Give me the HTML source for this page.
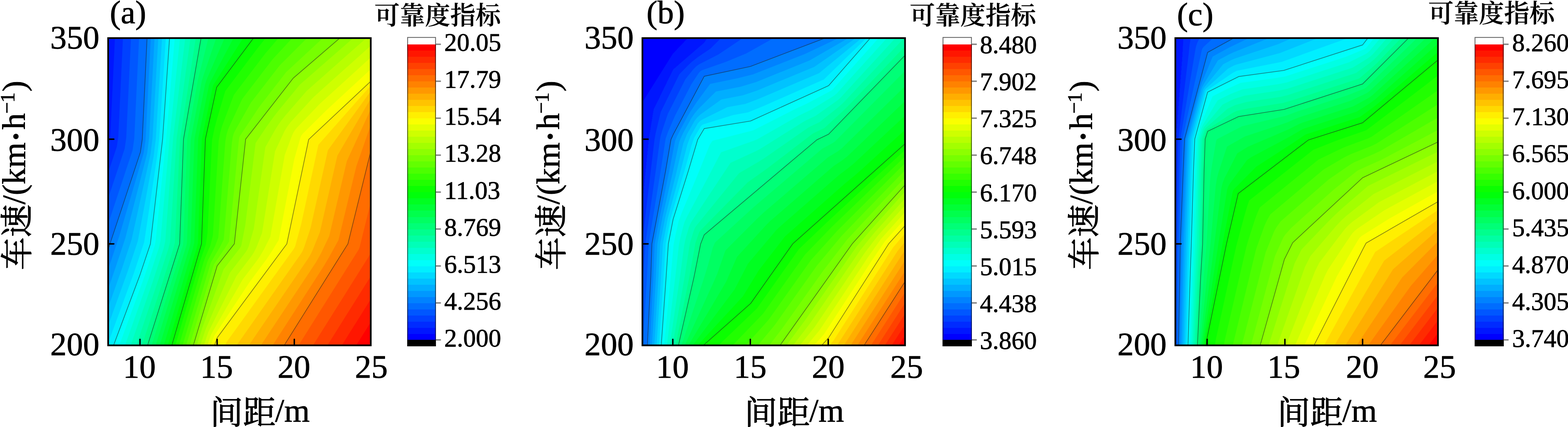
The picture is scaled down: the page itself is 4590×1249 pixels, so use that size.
<!DOCTYPE html>
<html lang="zh"><head><meta charset="utf-8"><title>可靠度指标</title>
<style>
html,body{margin:0;padding:0;background:#fff}
body{width:4590px;height:1249px;overflow:hidden}
svg{display:block}
text{font-family:"Liberation Serif","Noto Serif CJK SC",serif;fill:#000;stroke:#000;stroke-width:1.1px;stroke-linejoin:round}
.cj{stroke-width:1.6px}
.tk{font-size:96px}
.cbl{font-size:74px}
.cbt{font-size:74px;font-weight:600;stroke-width:0.5px}
.cl polyline{fill:none;stroke:#1e1e1e;stroke-opacity:.5;stroke-width:2.2;stroke-linejoin:round}
.cb rect{shape-rendering:crispEdges}
.fr{fill:none;stroke:#000;stroke-width:5}
.ti{stroke:#000;stroke-width:4.2;stroke-linecap:round}
.cbf{fill:none;stroke:#000;stroke-opacity:.62;stroke-width:2.4}
.cbk{stroke:#808080;stroke-width:4}
</style></head><body>
<svg width="4590" height="1249" viewBox="0 0 4590 1249">
<rect width="4590" height="1249" fill="#fff"/>
<defs>
<clipPath id="clipa"><rect x="316.6" y="111.4" width="768.7" height="898.8"/></clipPath>
<clipPath id="clipb"><rect x="1880.6" y="111.4" width="768.7" height="898.8"/></clipPath>
<clipPath id="clipc"><rect x="3440.6" y="111.4" width="768.7" height="898.8"/></clipPath>
</defs>
<!-- panel a -->
<g class="pl">
<rect x="316.6" y="111.4" width="768.7" height="898.8" fill="#0000ff"/>
<path fill="#0016ff" d="M316.6,111.4L316.6,1010.2L1085.3,1010.2L1085.3,111.4Z"/>
<path fill="#002bff" d="M336.4,111.4L322.8,397.4L319.1,423.4L316.6,431.0L316.6,1010.2L1085.3,1010.2L1085.3,111.4Z"/>
<path fill="#0041ff" d="M359.9,111.4L346.2,400.4L341.9,429.4L316.6,505.6L316.6,1010.2L1085.3,1010.2L1085.3,111.4Z"/>
<path fill="#0057ff" d="M383.4,111.4L369.5,403.4L365.0,434.4L316.6,580.1L316.6,1010.2L1085.3,1010.2L1085.3,111.4Z"/>
<path fill="#006dff" d="M407.0,111.4L393.1,404.4L388.1,439.4L316.6,654.7L316.6,1010.2L1085.3,1010.2L1085.3,111.4Z"/>
<path fill="#0082ff" d="M430.4,111.4L429.8,121.4L429.2,122.4L429.6,130.4L428.8,142.4L428.2,143.4L428.6,151.4L427.9,163.4L427.2,164.4L427.6,172.4L426.9,184.4L426.2,185.4L426.6,193.4L425.8,206.4L425.2,207.4L425.6,214.4L424.8,227.4L424.2,228.4L424.5,236.4L423.8,248.4L423.2,249.4L423.5,257.4L422.8,269.4L422.2,270.4L422.6,278.4L421.8,290.4L421.2,291.4L421.6,299.4L420.8,311.4L420.2,312.4L420.6,320.4L419.8,332.4L419.2,333.4L419.6,341.4L418.8,354.4L418.2,355.4L418.6,362.4L417.8,375.4L417.2,376.4L417.6,383.4L416.8,396.4L416.2,397.4L416.5,405.4L415.3,411.4L415.5,413.4L414.9,416.4L414.2,417.4L414.5,420.4L414.1,422.4L413.2,423.4L413.5,427.4L413.0,429.4L412.2,430.4L412.5,434.4L412.2,435.4L411.1,436.4L411.4,441.4L410.1,442.4L410.5,446.4L409.1,447.4L409.5,449.4L408.1,450.4L408.5,452.4L407.1,453.4L407.5,455.4L406.1,456.4L406.5,458.4L405.1,459.4L405.5,461.4L404.1,462.4L404.5,464.4L403.1,465.4L403.5,467.4L402.1,468.4L402.5,470.4L401.2,471.4L401.5,473.4L400.2,474.4L400.5,476.4L399.2,477.4L399.5,479.4L398.2,480.4L398.6,482.4L397.2,483.4L397.6,485.4L396.2,486.4L396.6,488.4L395.2,489.4L395.6,491.4L394.2,492.4L394.6,494.4L393.2,495.4L393.6,497.4L392.2,498.4L392.6,500.4L391.2,501.4L391.6,503.4L390.2,504.4L390.6,506.4L389.2,507.4L389.6,509.4L388.2,510.4L388.6,512.4L387.2,513.4L387.6,515.4L386.2,516.4L386.6,518.4L385.2,519.4L385.6,521.4L384.2,522.4L384.6,524.4L383.2,525.4L383.5,527.4L382.2,528.4L382.5,530.4L381.2,531.4L381.5,533.4L380.2,534.4L380.5,536.4L379.2,537.4L379.5,539.4L378.2,540.4L378.5,542.4L377.2,543.4L377.5,545.4L376.2,546.4L376.5,548.4L375.2,549.4L375.5,551.4L374.2,552.4L374.5,554.4L373.2,555.4L373.5,557.4L372.2,558.4L372.5,560.4L371.2,561.4L371.5,563.4L370.2,564.4L370.5,566.4L369.2,567.4L369.5,569.4L368.2,570.4L368.5,572.4L367.2,573.4L367.5,575.4L366.2,576.4L366.5,578.4L365.2,579.4L365.5,581.4L364.2,582.4L364.3,585.4L363.3,586.4L363.3,588.4L362.3,589.4L362.3,591.4L361.3,592.4L361.3,594.4L360.3,595.4L360.3,597.4L359.3,598.4L359.3,600.4L358.3,601.4L358.3,603.4L357.3,604.4L357.3,606.4L356.3,607.4L356.3,609.4L355.3,610.4L355.3,612.4L354.3,613.4L354.3,615.4L353.3,616.4L353.3,618.4L352.3,619.4L352.4,621.4L351.3,622.4L351.4,624.4L350.3,625.4L350.4,627.4L349.3,628.4L349.4,630.4L348.3,631.4L348.4,633.4L347.3,634.4L347.4,636.4L346.3,637.4L346.4,639.4L345.3,640.4L345.4,642.4L344.3,643.4L344.4,645.4L343.3,646.4L343.4,648.4L342.3,649.4L342.4,651.4L341.3,652.4L341.4,654.4L340.3,655.4L340.4,657.4L339.3,658.4L339.4,660.4L338.3,661.4L338.4,663.4L337.3,664.4L337.4,666.4L336.3,667.4L336.4,669.4L335.3,670.4L335.4,672.4L334.3,673.4L334.4,675.4L333.3,676.4L333.5,678.4L332.3,679.4L332.5,681.4L331.3,682.4L331.5,684.4L330.3,685.4L330.5,687.4L329.3,688.4L329.5,690.4L328.3,691.4L328.5,693.4L327.3,694.4L327.5,696.4L326.3,697.4L326.5,699.4L325.3,700.4L325.5,702.4L324.3,703.4L324.5,705.4L323.3,706.4L323.5,708.4L322.3,709.4L322.5,711.4L321.3,712.4L321.5,714.4L320.3,715.4L320.5,717.4L319.3,718.4L319.5,720.4L318.3,721.4L318.5,723.4L317.3,724.4L317.5,726.4L316.6,727.0L316.6,1010.2L1085.3,1010.2L1085.3,111.4Z"/>
<path fill="#0098ff" d="M441.5,111.4L426.3,407.4L420.7,447.4L348.5,692.4L316.6,788.1L316.6,1010.2L1085.3,1010.2L1085.3,111.4Z"/>
<path fill="#00aeff" d="M452.4,111.4L436.5,403.4L430.8,448.4L366.9,696.4L339.6,778.4L316.6,844.9L316.6,1010.2L1085.3,1010.2L1085.3,111.4Z"/>
<path fill="#00c3ff" d="M463.4,111.4L446.4,404.4L440.5,451.4L385.0,701.4L357.0,785.4L316.6,899.6L316.6,1010.2L1085.3,1010.2L1085.3,111.4Z"/>
<path fill="#00d9ff" d="M474.4,111.4L456.2,405.4L449.9,456.4L403.4,705.4L374.6,791.4L316.6,952.3L316.6,1010.2L1085.3,1010.2L1085.3,111.4Z"/>
<path fill="#00efff" d="M485.4,111.4L465.8,409.4L459.7,459.4L422.0,708.4L392.0,798.4L316.6,1003.2L316.6,1010.2L1085.3,1010.2L1085.3,111.4Z"/>
<path fill="#00fffa" d="M496.4,111.4L495.5,119.4L495.0,132.4L494.5,133.4L494.0,146.4L493.5,147.4L493.1,160.4L492.4,161.4L492.1,174.4L491.4,175.4L491.1,188.4L490.4,189.4L490.2,202.4L489.4,203.4L489.2,216.4L488.4,217.4L488.2,230.4L487.4,231.4L487.3,244.4L486.4,245.4L486.3,258.4L485.4,259.4L485.6,268.4L485.2,273.4L484.4,274.4L484.3,287.4L483.4,288.4L483.3,301.4L482.4,302.4L482.3,315.4L481.3,316.4L481.4,329.4L480.3,330.4L480.4,343.4L479.3,344.4L479.4,357.4L478.3,358.4L478.5,371.4L477.3,372.4L477.5,385.4L476.3,386.4L476.5,399.4L475.3,400.4L475.6,410.4L475.5,411.4L474.3,412.4L474.6,419.4L474.4,420.4L473.3,421.4L473.5,428.4L472.3,429.4L472.5,437.4L471.3,438.4L471.4,446.4L470.3,447.4L470.6,453.4L470.4,455.4L469.3,456.4L469.4,463.4L468.3,464.4L468.4,472.4L467.3,473.4L467.6,479.4L467.3,481.4L466.3,482.4L466.5,488.4L466.3,490.4L465.3,491.4L465.3,498.4L464.3,499.4L464.5,505.4L464.3,507.4L463.3,508.4L463.6,513.4L463.2,516.4L462.3,517.4L462.5,522.4L462.2,525.4L461.3,526.4L461.3,533.4L460.3,534.4L460.6,539.4L460.2,542.4L459.3,543.4L459.5,548.4L459.1,551.4L458.3,552.4L458.2,559.4L457.3,560.4L457.5,565.4L457.2,568.4L456.3,569.4L456.6,573.4L456.1,577.4L455.3,578.4L455.6,582.4L455.1,586.4L454.4,587.4L454.1,594.4L453.3,595.4L453.6,599.4L453.1,603.4L452.4,604.4L452.5,608.4L452.0,612.4L451.4,613.4L451.6,616.4L451.0,621.4L450.4,622.4L450.0,629.4L449.4,630.4L449.5,634.4L449.0,638.4L448.4,639.4L448.6,642.4L447.4,648.4L447.5,651.4L446.4,657.4L445.9,664.4L445.4,665.4L445.5,668.4L444.4,674.4L444.6,676.4L440.2,713.4L432.6,736.1L431.4,738.4L431.5,739.4L430.4,741.4L430.5,742.4L429.4,744.4L429.5,745.4L428.4,747.4L428.5,748.4L427.4,750.4L427.5,751.4L426.4,753.4L417.3,781.4L416.3,782.4L416.3,784.4L415.3,785.4L415.3,787.4L414.3,788.4L414.3,790.4L413.3,791.4L413.3,793.4L412.3,794.4L412.3,796.4L411.3,797.4L411.3,799.4L410.3,800.4L410.3,802.4L409.3,803.4L409.5,804.4L408.4,806.4L408.5,807.4L407.3,810.4L406.3,811.4L406.5,812.4L405.4,814.4L405.5,815.4L404.3,818.4L403.3,819.4L403.5,820.4L402.4,822.4L402.5,823.4L401.3,826.4L400.3,827.4L400.5,828.4L399.4,830.4L399.5,831.4L398.3,834.4L397.3,835.4L397.6,836.4L396.4,838.4L396.5,839.4L395.3,842.4L394.3,843.4L394.6,844.4L393.4,846.4L393.5,847.4L392.3,850.4L391.3,851.4L391.6,852.4L390.4,854.4L390.5,855.4L389.3,858.4L388.3,859.4L388.6,860.4L387.4,862.4L387.5,863.4L386.3,866.4L385.3,867.4L385.6,868.4L384.4,870.4L384.5,871.4L383.3,874.4L382.3,875.4L382.6,876.4L381.4,878.4L381.5,879.4L380.3,882.4L379.3,883.4L379.6,884.4L378.4,886.4L378.5,887.4L377.3,890.4L376.3,891.4L376.6,892.4L375.4,894.4L375.5,895.4L374.3,898.4L373.3,899.4L373.6,900.4L372.4,902.4L372.5,903.4L371.3,906.4L370.3,907.4L370.6,908.4L369.4,910.4L369.5,911.4L366.4,918.4L366.5,919.4L363.4,926.4L363.5,927.4L360.4,934.4L360.5,935.4L357.4,942.4L357.5,943.4L354.4,950.4L354.5,951.4L351.4,958.4L351.5,959.4L348.4,966.4L348.5,967.4L345.4,974.4L345.5,975.4L342.4,982.4L342.5,983.4L339.4,990.4L339.5,991.4L336.4,998.4L336.5,999.4L333.4,1006.4L332.4,1010.2L1085.3,1010.2L1085.3,111.4Z"/>
<path fill="#00ffe4" d="M511.6,111.4L486.1,408.4L456.0,700.4L453.8,715.4L423.0,808.4L349.3,1010.2L1085.3,1010.2L1085.3,111.4Z"/>
<path fill="#00ffce" d="M526.8,111.4L496.9,400.4L469.7,704.4L466.3,721.4L435.9,813.4L366.0,1010.2L1085.3,1010.2L1085.3,111.4Z"/>
<path fill="#00ffb8" d="M542.2,111.4L506.9,403.4L483.7,706.4L479.3,725.4L449.3,817.4L382.6,1010.2L1085.3,1010.2L1085.3,111.4Z"/>
<path fill="#00ffa3" d="M557.6,111.4L517.0,404.4L497.8,708.4L492.3,729.4L462.2,822.4L399.2,1010.2L1085.3,1010.2L1085.3,111.4Z"/>
<path fill="#00ff8d" d="M573.0,111.4L527.0,406.4L511.9,710.4L505.6,732.4L475.5,826.4L415.6,1010.2L1085.3,1010.2L1085.3,111.4Z"/>
<path fill="#00ff77" d="M588.5,111.4L587.4,114.4L587.2,119.4L586.4,120.4L586.5,123.4L586.2,125.4L585.4,126.4L585.6,128.4L585.1,131.4L584.5,132.4L583.2,142.4L582.4,143.4L582.2,148.4L581.4,149.4L581.6,151.4L581.1,154.4L580.4,155.4L580.6,157.4L579.5,161.4L578.1,171.4L577.4,172.4L577.3,176.4L576.4,178.4L576.6,180.4L575.4,184.4L575.5,186.4L574.5,190.4L573.1,200.4L572.4,201.4L572.6,203.4L571.4,207.4L571.5,209.4L570.4,213.4L568.0,229.4L567.4,230.4L567.5,232.4L566.4,236.4L563.0,258.4L562.4,259.4L562.5,261.4L537.2,407.4L534.9,470.4L534.4,471.4L533.9,496.4L533.4,497.4L533.0,521.4L532.4,522.4L532.0,547.4L531.4,548.4L531.1,572.4L530.3,573.4L530.6,586.4L530.1,598.4L529.3,599.4L529.6,613.4L529.2,623.4L528.3,624.4L528.6,640.4L528.2,649.4L527.3,650.4L527.6,667.4L527.3,674.4L526.3,675.4L526.6,694.4L526.3,700.4L525.2,701.4L525.5,714.4L524.3,715.4L524.6,717.4L523.2,718.4L523.5,720.4L522.2,721.4L522.3,724.4L521.3,725.4L521.4,727.4L520.3,728.4L520.5,730.4L519.3,731.4L519.5,733.4L518.3,734.4L518.6,736.4L517.3,737.4L517.6,739.4L516.2,740.4L516.3,743.4L515.3,744.4L515.4,746.4L514.3,747.4L514.4,749.4L513.3,750.4L513.5,752.4L512.3,753.4L512.6,755.4L511.3,756.4L511.6,758.4L510.3,759.4L510.5,761.4L509.2,762.4L509.4,765.4L508.3,766.4L508.4,768.4L507.3,769.4L507.5,771.4L506.3,772.4L506.6,774.4L505.3,775.4L505.6,777.4L504.3,778.4L504.5,780.4L503.2,781.4L503.4,784.4L502.3,785.4L502.4,787.4L501.3,788.4L501.5,790.4L500.3,791.4L500.5,793.4L499.3,794.4L499.6,796.4L498.3,797.4L498.5,799.4L497.2,800.4L497.3,803.4L496.3,804.4L496.4,806.4L495.3,807.4L495.5,809.4L494.3,810.4L494.5,812.4L493.3,813.4L493.6,815.4L492.3,816.4L492.6,818.4L491.3,819.4L491.3,822.4L490.3,823.4L490.4,825.4L489.3,826.4L489.4,828.4L488.3,829.4L488.5,831.4L487.3,832.4L487.6,834.4L486.3,835.4L486.6,837.4L485.3,838.4L485.5,840.4L484.2,841.4L484.4,844.4L483.3,845.4L483.4,847.4L482.3,848.4L482.5,850.4L481.3,851.4L481.5,853.4L480.3,854.4L480.6,856.4L479.3,857.4L479.5,859.4L478.2,860.4L478.3,863.4L477.3,864.4L477.4,866.4L476.3,867.4L476.5,869.4L475.3,870.4L475.5,872.4L474.3,873.4L474.6,875.4L473.3,876.4L473.5,878.4L472.2,879.4L472.3,882.4L471.3,883.4L471.4,885.4L470.3,886.4L470.5,888.4L469.3,889.4L469.5,891.4L468.3,892.4L468.6,894.4L467.3,895.4L467.6,897.4L466.2,898.4L466.5,900.4L465.2,901.4L465.4,904.4L464.3,905.4L464.4,907.4L463.3,908.4L463.5,910.4L462.3,911.4L462.6,913.4L461.3,914.4L461.6,916.4L460.2,917.4L460.5,919.4L459.2,920.4L459.4,923.4L458.3,924.4L458.4,926.4L457.3,927.4L457.5,929.4L456.3,930.4L456.5,932.4L455.3,933.4L455.6,935.4L454.3,936.4L454.5,938.4L453.2,939.4L453.3,942.4L452.3,943.4L452.4,945.4L451.3,946.4L451.5,948.4L450.3,949.4L450.5,951.4L449.3,952.4L449.6,954.4L448.3,955.4L448.5,957.4L447.2,958.4L447.3,961.4L446.3,962.4L446.4,964.4L445.3,965.4L445.4,967.4L444.3,968.4L444.5,970.4L443.3,971.4L443.6,973.4L442.3,974.4L442.6,976.4L441.2,977.4L441.5,979.4L440.2,980.4L440.4,983.4L439.3,984.4L439.4,986.4L438.3,987.4L438.5,989.4L437.3,990.4L437.6,992.4L436.3,993.4L436.6,995.4L435.2,996.4L435.5,998.4L434.2,999.4L434.4,1002.4L433.3,1003.4L433.4,1005.4L432.3,1006.4L432.5,1008.4L431.3,1009.4L431.4,1010.2L1085.3,1010.2L1085.3,111.4Z"/>
<path fill="#00ff62" d="M610.0,111.4L579.3,233.4L547.9,407.4L536.9,704.4L535.9,715.4L443.8,1010.2L1085.3,1010.2L1085.3,111.4Z"/>
<path fill="#00ff4c" d="M632.9,111.4L593.8,226.4L590.6,237.3L559.2,403.4L558.4,409.4L547.5,706.4L546.2,716.4L455.7,1010.2L1085.3,1010.2L1085.3,111.4Z"/>
<path fill="#00ff36" d="M657.4,111.4L604.6,233.6L600.5,246.4L570.4,400.4L569.1,410.4L558.1,707.4L556.9,715.4L555.2,722.4L467.6,1010.2L1085.3,1010.2L1085.3,111.4Z"/>
<path fill="#00ff21" d="M683.6,111.4L614.7,241.4L611.7,249.4L580.2,405.4L568.6,710.4L565.0,725.4L479.4,1010.2L1085.3,1010.2L1085.3,111.4Z"/>
<path fill="#00ff0b" d="M711.6,111.6L624.6,248.4L623.0,252.4L590.7,406.4L579.3,711.4L574.8,728.4L491.2,1010.2L1085.3,1010.2L1085.3,111.4Z"/>
<path fill="#0bff00" d="M742.1,111.4L635.6,253.4L634.4,255.4L633.6,258.2L601.3,407.4L599.0,469.4L598.5,471.4L598.0,496.4L597.5,497.4L597.1,521.4L596.5,522.4L596.1,547.4L595.5,548.4L595.2,572.4L594.4,573.4L594.3,598.4L593.4,599.4L593.3,623.4L592.4,624.4L592.3,649.4L591.4,650.4L591.4,674.4L590.4,675.4L590.4,700.4L589.4,701.4L589.6,714.4L588.3,715.4L588.4,718.4L587.4,719.4L587.5,721.4L586.4,722.4L586.6,724.4L585.3,725.4L585.5,728.4L584.4,729.4L584.6,731.4L583.3,732.4L583.4,735.4L582.4,736.4L582.6,738.4L581.3,739.4L581.4,742.4L580.4,743.4L580.5,745.4L579.3,746.4L579.6,748.4L578.3,749.4L578.4,752.4L577.3,753.4L577.6,755.4L576.3,756.4L576.4,759.4L575.4,760.4L575.5,762.4L574.3,763.4L574.6,765.4L573.3,766.4L573.5,769.4L572.3,770.4L572.6,772.4L571.3,773.4L571.4,776.4L570.3,777.4L570.5,779.4L569.3,780.4L569.5,782.4L568.3,783.4L568.5,786.4L567.3,787.4L567.6,789.4L566.3,790.4L566.4,793.4L565.3,794.4L565.6,796.4L564.3,797.4L564.4,800.4L563.3,801.4L563.5,803.4L562.3,804.4L562.6,806.4L561.3,807.4L561.5,810.4L560.3,811.4L560.6,813.4L559.3,814.4L559.4,817.4L558.3,818.4L558.5,820.4L557.3,821.4L557.6,823.4L556.3,824.4L556.5,827.4L555.3,828.4L555.6,830.4L554.3,831.4L554.4,834.4L553.3,835.4L553.6,837.4L552.3,838.4L552.4,841.4L551.3,842.4L551.5,844.4L550.3,845.4L550.6,847.4L549.3,848.4L549.4,851.4L548.3,852.4L548.6,854.4L547.3,855.4L547.4,858.4L546.3,859.4L546.5,861.4L545.3,862.4L545.6,864.4L544.3,865.4L544.5,868.4L543.3,869.4L543.6,871.4L542.3,872.4L542.4,875.4L541.3,876.4L541.5,878.4L540.3,879.4L540.5,881.4L539.3,882.4L539.5,885.4L538.3,886.4L538.6,888.4L537.3,889.4L537.4,892.4L536.3,893.4L536.6,895.4L535.3,896.4L535.4,899.4L534.3,900.4L534.5,902.4L533.3,903.4L533.6,905.4L532.3,906.4L532.5,909.4L531.3,910.4L531.6,912.4L530.3,913.4L530.4,916.4L529.3,917.4L529.5,919.4L528.3,920.4L528.5,922.4L527.3,923.4L527.5,926.4L526.3,927.4L526.6,929.4L525.3,930.4L525.4,933.4L524.3,934.4L524.6,936.4L523.3,937.4L523.4,940.4L522.3,941.4L522.5,943.4L521.3,944.4L521.6,946.4L520.3,947.4L520.4,950.4L519.3,951.4L519.6,953.4L518.3,954.4L518.4,957.4L517.3,958.4L517.5,960.4L516.3,961.4L516.6,963.4L515.3,964.4L515.5,967.4L514.3,968.4L514.6,970.4L513.3,971.4L513.4,974.4L512.3,975.4L512.5,977.4L511.3,978.4L511.5,980.4L510.3,981.4L510.5,984.4L509.3,985.4L509.6,987.4L508.3,988.4L508.4,991.4L507.3,992.4L507.6,994.4L506.3,995.4L506.4,998.4L505.3,999.4L505.5,1001.4L504.3,1002.4L504.6,1004.4L503.3,1005.4L503.5,1008.4L502.3,1009.4L502.4,1010.2L1085.3,1010.2L1085.3,111.4Z"/>
<path fill="#21ff00" d="M777.5,111.4L753.6,141.5L659.3,266.4L636.1,344.4L627.8,375.4L620.7,409.4L607.4,681.4L602.8,714.4L586.9,760.4L513.4,1010.2L1085.3,1010.2L1085.3,111.4Z"/>
<path fill="#36ff00" d="M815.2,111.4L775.8,157.4L684.5,277.4L650.1,368.4L644.6,388.4L640.0,412.4L623.2,688.4L615.6,718.4L600.6,753.0L596.5,764.4L523.9,1010.2L1085.3,1010.2L1085.3,111.4Z"/>
<path fill="#4cff00" d="M855.5,111.4L797.6,173.8L709.0,289.4L671.0,370.4L666.9,380.4L662.9,394.4L659.5,414.4L639.1,694.4L629.4,720.4L610.1,758.4L606.7,766.4L534.4,1010.2L1085.3,1010.2L1085.3,111.4Z"/>
<path fill="#62ff00" d="M898.6,111.5L818.5,191.4L734.3,300.4L687.6,382.9L684.1,390.4L681.3,400.4L678.8,417.4L654.9,700.4L643.4,723.4L618.6,765.3L616.3,770.4L544.9,1010.2L1085.3,1010.2L1085.3,111.4Z"/>
<path fill="#77ff00" d="M944.6,111.7L837.6,211.0L759.0,312.4L701.8,398.4L700.2,403.4L698.2,419.4L670.5,706.4L658.7,725.4L626.2,773.4L555.4,1010.2L1085.3,1010.2L1085.3,111.4Z"/>
<path fill="#8dff00" d="M994.6,111.5L876.6,212.9L875.6,213.2L869.6,219.0L868.6,219.2L862.6,225.0L861.6,225.2L856.6,230.1L856.2,231.4L849.4,239.4L849.2,240.4L842.4,248.4L842.2,249.4L835.4,257.4L833.6,260.4L828.4,266.4L826.6,269.3L719.6,406.5L718.6,411.7L708.1,509.4L707.5,511.4L707.1,518.4L706.5,520.4L706.0,528.4L705.5,529.4L705.1,537.4L704.5,538.4L704.1,546.4L703.5,547.4L703.1,555.4L702.5,556.4L702.1,564.4L701.5,565.4L701.2,573.4L700.5,574.4L700.2,582.4L699.4,583.4L699.2,591.4L698.4,592.4L698.2,600.4L697.4,601.4L697.3,609.4L696.4,610.4L696.3,618.4L695.4,619.4L695.3,627.4L694.4,628.4L694.3,636.4L693.4,637.4L693.4,645.4L692.4,646.4L692.4,654.4L691.4,655.4L691.4,663.4L690.4,664.4L690.4,672.4L689.4,673.4L689.4,681.4L688.4,682.4L688.4,690.4L687.4,691.4L687.4,699.4L686.4,700.4L686.5,708.4L685.4,709.4L685.5,713.4L683.4,715.4L683.5,716.4L680.4,719.4L680.4,720.4L676.4,724.4L676.5,725.4L672.4,729.4L672.6,730.4L669.4,733.4L669.5,734.4L665.4,738.4L665.5,739.4L662.4,742.4L662.5,743.4L658.4,747.4L658.5,748.4L655.4,751.4L655.5,752.4L651.4,756.4L651.5,757.4L647.4,761.4L647.6,762.4L644.4,765.4L644.5,766.4L640.4,770.4L640.6,771.4L637.4,774.4L637.5,775.4L635.6,777.3L635.5,778.4L634.4,779.4L634.6,781.4L633.4,782.4L633.5,785.4L632.5,786.4L632.5,788.4L631.4,789.4L631.6,791.4L630.4,792.4L630.5,795.4L629.5,796.4L629.5,798.4L628.4,799.4L628.6,801.4L627.4,802.4L627.5,805.4L626.5,806.4L626.5,808.4L625.4,809.4L625.6,811.4L624.4,812.4L624.5,815.4L623.5,816.4L623.5,818.4L622.4,819.4L622.6,821.4L621.4,822.4L621.5,825.4L620.4,826.4L620.5,828.4L619.4,829.4L619.6,831.4L618.4,832.4L618.4,835.4L617.4,836.4L617.5,838.4L616.4,839.4L616.6,841.4L615.4,842.4L615.4,845.4L614.4,846.4L614.5,848.4L613.4,849.4L613.6,851.4L612.4,852.4L612.4,855.4L611.4,856.4L611.5,858.4L610.4,859.4L610.6,861.4L609.4,862.4L609.4,865.4L608.4,866.4L608.5,868.4L607.4,869.4L607.6,871.4L606.4,872.4L606.4,875.4L605.4,876.4L605.5,878.4L604.4,879.4L604.6,881.4L603.4,882.4L603.4,885.4L602.4,886.4L602.5,888.4L601.4,889.4L601.6,891.4L600.4,892.4L600.4,895.4L599.4,896.4L599.5,898.4L598.4,899.4L598.6,901.4L597.4,902.4L597.4,905.4L596.4,906.4L596.5,908.4L595.4,909.4L595.6,911.4L594.4,912.4L594.4,915.4L593.4,916.4L593.5,918.4L592.4,919.4L592.6,921.4L591.4,922.4L591.4,925.4L590.4,926.4L590.5,928.4L589.4,929.4L589.6,931.4L588.3,932.4L588.4,935.4L587.4,936.4L587.5,938.4L586.4,939.4L586.6,941.4L585.3,942.4L585.4,945.4L584.4,946.4L584.5,948.4L583.3,949.4L583.6,951.4L582.3,952.4L582.4,955.4L581.4,956.4L581.5,958.4L580.3,959.4L580.6,961.4L579.3,962.4L579.4,965.4L578.4,966.4L578.5,968.4L577.3,969.4L577.6,971.4L576.3,972.4L576.4,975.4L575.4,976.4L575.5,978.4L574.3,979.4L574.6,981.4L573.3,982.4L573.4,985.4L572.4,986.4L572.5,988.4L571.3,989.4L571.6,991.4L570.3,992.4L570.4,995.4L569.4,996.4L569.5,998.4L568.3,999.4L568.6,1001.4L567.3,1002.4L567.4,1005.4L566.4,1006.4L566.5,1008.4L565.3,1009.4L565.4,1010.2L1085.3,1010.2L1085.3,111.4Z"/>
<path fill="#a3ff00" d="M1033.6,111.6L877.9,247.4L817.6,320.7L801.3,341.4L781.1,369.4L748.2,418.4L718.0,658.4L706.4,717.4L704.9,721.4L702.5,725.4L654.6,787.4L592.1,959.4L576.1,1010.2L1085.3,1010.2L1085.3,111.4Z"/>
<path fill="#b8ff00" d="M1072.3,111.4L897.2,266.4L834.8,338.4L822.1,354.4L813.7,366.4L805.5,379.4L777.3,429.4L776.6,431.2L742.8,669.4L728.0,720.4L724.2,729.4L719.6,736.9L673.3,797.4L601.0,965.4L586.4,1010.2L1085.3,1010.2L1085.3,111.4Z"/>
<path fill="#ceff00" d="M1085.3,133.7L917.4,284.4L850.6,357.5L841.4,369.4L833.3,382.4L805.1,442.4L767.1,681.4L750.6,723.4L742.5,739.4L735.2,750.4L692.0,807.4L609.7,971.4L596.7,1010.2L1085.3,1010.2Z"/>
<path fill="#e4ff00" d="M1085.3,167.9L936.6,303.3L869.2,373.4L863.6,380.2L859.0,387.4L854.8,396.4L833.5,453.4L791.3,692.4L772.7,729.4L760.9,749.4L751.9,762.4L710.6,817.3L618.8,976.4L616.7,981.4L607.1,1010.2L1085.3,1010.2Z"/>
<path fill="#faff00" d="M1085.3,202.6L956.6,321.5L886.7,390.4L882.1,396.4L879.5,402.4L861.4,465.4L815.7,702.4L795.4,735.4L780.1,758.4L729.7,826.4L627.6,981.8L626.3,984.4L617.5,1010.2L1085.3,1010.2Z"/>
<path fill="#ffef00" d="M1085.3,237.6L1076.6,245.6L1075.6,246.0L1068.6,253.3L1060.6,260.7L1059.6,261.0L1052.6,268.3L1042.6,277.1L1036.6,283.3L1026.6,292.1L1020.6,298.3L977.6,338.2L903.6,408.3L902.4,411.4L901.3,419.4L900.4,420.4L900.6,422.4L900.2,424.4L899.4,425.4L899.5,427.4L898.4,430.4L898.5,432.4L897.5,435.4L897.3,438.4L896.4,439.4L896.2,443.4L895.4,444.4L895.6,446.4L894.4,449.4L894.5,451.4L893.4,454.4L892.2,462.4L891.4,463.4L891.6,465.4L890.4,468.4L890.5,470.4L889.4,473.4L888.2,481.4L887.4,482.4L887.6,484.4L887.2,486.4L886.4,487.4L886.5,489.4L885.4,492.4L885.5,494.4L884.4,497.4L884.2,500.4L883.4,501.4L883.6,503.4L883.2,505.4L882.4,506.4L882.6,508.4L881.4,511.4L881.5,513.4L880.4,516.4L880.3,519.4L879.4,520.4L879.2,524.4L878.4,525.4L878.6,527.4L877.4,530.4L877.5,532.4L876.4,535.4L876.5,537.4L875.4,540.4L875.2,543.4L874.4,544.4L874.6,546.4L874.2,548.4L873.4,549.4L873.5,551.4L872.4,554.4L872.5,556.4L871.4,559.4L871.2,562.4L870.4,563.4L870.6,565.4L870.2,567.4L869.4,568.4L869.6,570.4L868.4,573.4L868.5,575.4L867.4,578.4L867.3,581.4L866.4,582.4L866.2,586.4L865.4,587.4L865.6,589.4L864.4,592.4L864.5,594.4L863.4,597.4L863.5,599.4L862.4,602.4L862.2,605.4L861.4,606.4L861.6,608.4L861.2,610.4L860.4,611.4L860.5,613.4L859.4,616.4L859.5,618.4L858.4,621.4L858.3,624.4L857.4,625.4L857.6,627.4L857.2,629.4L856.4,630.4L856.6,632.4L855.4,635.4L855.5,637.4L854.4,640.4L854.3,643.4L853.4,644.4L853.4,647.4L852.4,649.4L852.6,651.4L852.2,653.4L851.4,654.4L851.5,656.4L850.4,659.4L850.3,662.4L849.4,663.4L849.4,666.4L848.4,668.4L848.6,670.4L848.2,672.4L847.4,673.4L847.5,675.4L846.4,678.4L846.5,680.4L845.4,683.4L845.2,686.4L844.4,687.4L844.6,689.4L844.2,691.4L843.4,692.4L843.6,694.4L842.4,697.4L842.5,699.4L841.4,702.4L841.3,705.4L840.4,706.4L840.6,708.4L840.2,710.4L839.4,711.4L839.5,713.4L826.4,730.4L825.4,732.4L823.4,734.4L822.5,736.4L820.4,738.4L819.5,740.4L817.4,742.4L817.3,743.4L803.4,761.4L802.4,763.4L800.4,765.4L800.2,766.4L797.4,769.4L797.3,770.4L794.4,773.4L794.3,774.4L780.5,792.4L780.2,793.4L777.4,796.4L777.2,797.4L774.4,800.4L774.3,801.4L771.4,804.4L771.3,805.4L757.5,823.4L757.2,824.4L754.4,827.4L754.2,828.4L751.4,831.4L751.3,832.4L748.4,835.4L748.3,836.4L734.5,854.4L734.2,855.4L731.5,858.4L731.2,859.4L728.5,862.4L728.3,863.4L711.5,885.4L711.2,886.4L708.5,889.4L708.3,890.4L705.5,893.4L705.3,894.4L688.5,916.4L688.3,917.4L685.5,920.4L685.3,921.4L682.5,924.4L682.3,925.4L668.5,943.4L668.3,944.4L665.5,947.4L665.3,948.4L662.5,951.4L662.3,952.4L659.5,955.4L659.3,956.4L645.5,974.4L645.3,975.4L642.5,978.4L642.3,979.4L639.5,982.4L639.4,983.4L636.5,986.4L634.5,990.4L633.5,994.4L632.5,995.4L632.5,997.4L631.5,998.4L631.5,1000.4L630.5,1001.4L630.5,1003.4L629.5,1004.4L629.6,1005.4L628.5,1006.4L628.6,1008.4L627.5,1009.4L627.5,1010.2L1085.3,1010.2Z"/>
<path fill="#ffd900" d="M1085.3,250.4L932.0,423.4L881.7,655.4L864.6,718.4L862.8,723.4L859.6,728.7L662.6,1001.4L659.0,1010.2L1085.3,1010.2Z"/>
<path fill="#ffc300" d="M1085.3,266.7L959.8,439.4L909.3,666.4L889.9,724.4L885.1,735.4L880.2,743.4L692.6,1010.2L1085.3,1010.2Z"/>
<path fill="#ffae00" d="M1085.3,288.5L987.5,455.4L936.6,678.4L915.6,730.4L911.1,740.4L906.2,749.4L900.6,758.3L728.4,1010.2L1085.3,1010.2Z"/>
<path fill="#ff9800" d="M1085.2,319.4L1015.2,471.4L963.8,690.4L939.5,741.4L925.4,766.4L763.5,1010.2L1085.3,1010.2Z"/>
<path fill="#ff8200" d="M1085.3,365.4L1043.1,486.4L990.8,702.4L963.8,751.4L947.1,779.4L798.0,1010.2L1085.3,1010.2Z"/>
<path fill="#ff6d00" d="M1084.6,442.1L1084.5,446.4L1083.4,447.4L1083.5,450.4L1082.4,451.4L1082.5,454.4L1081.4,455.4L1081.5,458.4L1080.4,459.4L1080.5,462.4L1079.4,463.4L1079.5,466.4L1078.4,467.4L1078.5,470.4L1077.4,471.4L1077.5,474.4L1076.4,475.4L1076.5,478.4L1075.4,479.4L1075.5,482.4L1074.4,483.4L1074.5,486.4L1073.4,487.4L1073.5,490.4L1072.3,491.4L1072.5,494.4L1071.3,495.4L1071.3,499.4L1070.4,500.4L1070.3,503.4L1069.4,504.4L1069.4,507.4L1068.4,508.4L1068.4,511.4L1067.4,512.4L1067.4,515.4L1066.4,516.4L1066.4,519.4L1065.4,520.4L1065.4,523.4L1064.4,524.4L1064.4,527.4L1063.4,528.4L1063.4,531.4L1062.4,532.4L1062.4,535.4L1061.4,536.4L1061.4,539.4L1060.4,540.4L1060.4,543.4L1059.4,544.4L1059.5,547.4L1058.4,548.4L1058.2,552.4L1057.4,553.4L1057.2,556.4L1056.4,557.4L1056.3,560.4L1055.4,561.4L1055.3,564.4L1054.4,565.4L1054.3,568.4L1053.4,569.4L1053.3,572.4L1052.4,573.4L1052.3,576.4L1051.4,577.4L1051.3,580.4L1050.4,581.4L1050.3,584.4L1049.4,585.4L1049.3,588.4L1048.4,589.4L1048.3,592.4L1047.4,593.4L1047.3,596.4L1046.4,597.4L1046.4,600.4L1045.4,601.4L1045.4,604.4L1044.4,605.4L1044.1,609.4L1042.5,614.4L1042.2,617.4L1041.4,618.4L1041.2,621.4L1040.4,622.4L1040.2,625.4L1039.4,626.4L1039.2,629.4L1038.4,630.4L1038.2,633.4L1037.4,634.4L1037.2,637.4L1036.4,638.4L1036.2,641.4L1035.4,642.4L1035.2,645.4L1034.4,646.4L1034.2,649.4L1033.4,650.4L1033.3,653.4L1032.4,654.4L1032.3,657.4L1031.4,658.4L1031.3,661.4L1025.5,683.4L1025.1,686.4L1024.5,687.4L1024.1,690.4L1023.5,691.4L1023.1,694.4L1022.5,695.4L1022.1,698.4L1021.5,699.4L1021.1,702.4L1020.5,703.4L1020.2,706.4L1019.5,707.4L1019.2,710.4L1018.5,711.4L1018.4,713.4L1000.2,742.4L998.5,744.4L998.3,745.4L993.5,752.4L983.2,769.4L981.5,771.4L981.3,772.4L976.5,779.4L976.3,780.4L971.5,787.4L966.3,796.4L964.4,798.4L964.4,799.4L959.5,806.4L959.4,807.4L954.5,814.4L954.3,815.4L949.5,822.4L949.3,823.4L947.4,825.4L947.4,826.4L943.6,832.4L942.4,833.4L942.4,834.4L937.4,841.4L937.4,842.4L932.5,849.4L932.3,850.4L930.4,852.4L930.4,853.4L927.5,857.4L927.3,858.4L925.4,860.4L925.4,861.4L921.6,867.4L920.4,868.4L920.4,869.4L917.3,874.4L913.4,879.4L913.5,880.4L910.5,884.4L910.3,885.4L908.4,887.4L908.4,888.4L905.5,892.4L905.3,893.4L903.4,895.4L903.4,896.4L900.5,900.4L900.3,901.4L896.4,906.4L896.5,907.4L893.4,911.4L893.4,912.4L891.4,914.4L891.5,915.4L888.4,919.4L888.3,920.4L886.4,922.4L886.4,923.4L883.5,927.4L883.3,928.4L881.4,930.4L881.4,931.4L879.4,933.4L879.5,934.4L876.4,938.4L876.4,939.4L874.4,941.4L874.5,942.4L871.4,946.4L871.4,947.4L869.4,949.4L869.5,950.4L868.2,952.4L864.4,957.4L864.5,958.4L862.4,960.4L862.5,961.4L859.4,965.4L859.4,966.4L857.4,968.4L857.5,969.4L854.4,973.4L854.4,974.4L852.4,976.4L852.5,977.4L851.5,978.4L851.3,979.4L847.4,984.4L847.5,985.4L845.4,987.4L845.6,988.4L842.4,992.4L842.5,993.4L840.4,995.4L840.6,996.4L837.4,1000.4L837.4,1001.4L835.4,1003.4L835.5,1004.4L832.4,1008.4L832.4,1009.4L831.7,1010.2L1085.3,1010.2L1085.3,441.6Z"/>
<path fill="#ff5700" d="M1085.3,591.5L1052.9,722.4L1050.3,729.4L874.0,1010.2L1085.3,1010.2Z"/>
<path fill="#ff4100" d="M1085.2,738.4L1082.2,745.4L1078.8,751.4L916.2,1010.2L1085.3,1010.2Z"/>
<path fill="#ff2b00" d="M1085.1,808.4L958.9,1009.4L958.4,1010.2L1085.3,1010.2Z"/>
<path fill="#ff1600" d="M1085.2,875.4L1004.8,1003.4L1000.5,1010.2L1085.3,1010.2Z"/>
<path fill="#ff0000" d="M1085.3,942.4L1053.9,992.4L1042.7,1010.2L1085.3,1010.2Z"/>
</g>
<g class="cl" clip-path="url(#clipa)">
<polyline points="431.9,81 430.5,111 416.5,407 411,445 319,722 309.5,750.5"/>
<polyline points="498.5,81.1 496.4,111 476,407 440.3,713.3 409.8,804 332.5,1010 322,1038.1"/>
<polyline points="593.7,81.4 588.6,111 537.2,407 525.9,713.3 432,1010 422.9,1038.6"/>
<polyline points="760.4,87 742.4,111 634.2,255.3 601.2,407 589.9,713.3 503,1010 494.6,1038.8"/>
<polyline points="1017.9,91.4 995.2,111 858.4,228.6 719.1,407 685.9,713.3 635.7,777.6 566,1010 557.4,1038.7"/>
<polyline points="1106.9,217.5 1085,238 903.6,408 839.6,713.3 635.7,988 628,1010 618.1,1038.3"/>
<polyline points="1092.2,414.9 1085,444 1018.4,713.3 832,1010 816,1035.4"/>
</g>
<g class="ti">
<line x1="316.6" y1="407.2" x2="333.1" y2="407.2"/>
<line x1="316.6" y1="713.3" x2="333.1" y2="713.3"/>
<line x1="409.8" y1="1010.2" x2="409.8" y2="992.7"/>
<line x1="635.6" y1="1010.2" x2="635.6" y2="992.7"/>
<line x1="861.5" y1="1010.2" x2="861.5" y2="992.7"/>
</g>
<rect class="fr" x="316.6" y="111.4" width="768.7" height="898.8"/>
<text class="tk" text-anchor="end" x="291" y="142">350</text>
<text class="tk" text-anchor="end" x="291" y="440.8">300</text>
<text class="tk" text-anchor="end" x="291" y="745.2">250</text>
<text class="tk" text-anchor="end" x="291" y="1038.6">200</text>
<text class="tk" text-anchor="middle" x="408" y="1104.6">10</text>
<text class="tk" text-anchor="middle" x="633.9" y="1104.6">15</text>
<text class="tk" text-anchor="middle" x="860.5" y="1104.6">20</text>
<text class="tk" text-anchor="middle" x="1087" y="1104.6">25</text>
<text class="tk" x="321.5" y="67.8">(a)</text>
<text class="tk" x="615.3" y="1233"><tspan class="cj" dy="7">间距</tspan><tspan dy="-7" dx="-2">/m</tspan></text>
<text class="tk" transform="translate(73 790) rotate(-90)"><tspan class="cj" dy="9.5">车速</tspan><tspan dy="-9.5">/(km</tspan><tspan font-size="124" dy="14.7" dx="-3">·</tspan><tspan dy="-14.7" dx="-0.7">h</tspan><tspan font-size="60" dy="-33" dx="-1.5">−</tspan><tspan font-size="60" dy="2" dx="-1.5">1</tspan><tspan dy="31" dx="2.2">)</tspan></text>
<g class="cb">
<rect x="1192" y="108.3" width="84.2" height="21.2" fill="#fff"/>
<rect x="1192" y="994.2" width="84.2" height="18.8" fill="#000"/>
<rect x="1192" y="976.19" width="84.2" height="18.61" fill="#0000ff"/>
<rect x="1192" y="958.17" width="84.2" height="18.61" fill="#0016ff"/>
<rect x="1192" y="940.16" width="84.2" height="18.61" fill="#002bff"/>
<rect x="1192" y="922.14" width="84.2" height="18.61" fill="#0041ff"/>
<rect x="1192" y="904.13" width="84.2" height="18.61" fill="#0057ff"/>
<rect x="1192" y="886.11" width="84.2" height="18.61" fill="#006dff"/>
<rect x="1192" y="868.10" width="84.2" height="18.61" fill="#0082ff"/>
<rect x="1192" y="850.08" width="84.2" height="18.61" fill="#0098ff"/>
<rect x="1192" y="832.07" width="84.2" height="18.61" fill="#00aeff"/>
<rect x="1192" y="814.05" width="84.2" height="18.61" fill="#00c3ff"/>
<rect x="1192" y="796.04" width="84.2" height="18.61" fill="#00d9ff"/>
<rect x="1192" y="778.03" width="84.2" height="18.61" fill="#00efff"/>
<rect x="1192" y="760.01" width="84.2" height="18.61" fill="#00fffa"/>
<rect x="1192" y="742.00" width="84.2" height="18.61" fill="#00ffe4"/>
<rect x="1192" y="723.98" width="84.2" height="18.61" fill="#00ffce"/>
<rect x="1192" y="705.97" width="84.2" height="18.61" fill="#00ffb8"/>
<rect x="1192" y="687.95" width="84.2" height="18.61" fill="#00ffa3"/>
<rect x="1192" y="669.94" width="84.2" height="18.61" fill="#00ff8d"/>
<rect x="1192" y="651.92" width="84.2" height="18.61" fill="#00ff77"/>
<rect x="1192" y="633.91" width="84.2" height="18.61" fill="#00ff62"/>
<rect x="1192" y="615.89" width="84.2" height="18.61" fill="#00ff4c"/>
<rect x="1192" y="597.88" width="84.2" height="18.61" fill="#00ff36"/>
<rect x="1192" y="579.86" width="84.2" height="18.61" fill="#00ff21"/>
<rect x="1192" y="561.85" width="84.2" height="18.61" fill="#00ff0b"/>
<rect x="1192" y="543.84" width="84.2" height="18.61" fill="#0bff00"/>
<rect x="1192" y="525.82" width="84.2" height="18.61" fill="#21ff00"/>
<rect x="1192" y="507.81" width="84.2" height="18.61" fill="#36ff00"/>
<rect x="1192" y="489.79" width="84.2" height="18.61" fill="#4cff00"/>
<rect x="1192" y="471.78" width="84.2" height="18.61" fill="#62ff00"/>
<rect x="1192" y="453.76" width="84.2" height="18.61" fill="#77ff00"/>
<rect x="1192" y="435.75" width="84.2" height="18.61" fill="#8dff00"/>
<rect x="1192" y="417.73" width="84.2" height="18.61" fill="#a3ff00"/>
<rect x="1192" y="399.72" width="84.2" height="18.61" fill="#b8ff00"/>
<rect x="1192" y="381.70" width="84.2" height="18.61" fill="#ceff00"/>
<rect x="1192" y="363.69" width="84.2" height="18.61" fill="#e4ff00"/>
<rect x="1192" y="345.67" width="84.2" height="18.61" fill="#faff00"/>
<rect x="1192" y="327.66" width="84.2" height="18.61" fill="#ffef00"/>
<rect x="1192" y="309.65" width="84.2" height="18.61" fill="#ffd900"/>
<rect x="1192" y="291.63" width="84.2" height="18.61" fill="#ffc300"/>
<rect x="1192" y="273.62" width="84.2" height="18.61" fill="#ffae00"/>
<rect x="1192" y="255.60" width="84.2" height="18.61" fill="#ff9800"/>
<rect x="1192" y="237.59" width="84.2" height="18.61" fill="#ff8200"/>
<rect x="1192" y="219.57" width="84.2" height="18.61" fill="#ff6d00"/>
<rect x="1192" y="201.56" width="84.2" height="18.61" fill="#ff5700"/>
<rect x="1192" y="183.54" width="84.2" height="18.61" fill="#ff4100"/>
<rect x="1192" y="165.53" width="84.2" height="18.61" fill="#ff2b00"/>
<rect x="1192" y="147.51" width="84.2" height="18.61" fill="#ff1600"/>
<rect x="1192" y="129.50" width="84.2" height="18.61" fill="#ff0000"/>
<rect x="1192" y="994.2" width="84.2" height="18.8" fill="#000"/>
</g>
<g class="cbk">
<line x1="1276.2" y1="994.2" x2="1290.7" y2="994.2"/>
<line x1="1276.2" y1="886.1" x2="1290.7" y2="886.1"/>
<line x1="1276.2" y1="778.0" x2="1290.7" y2="778.0"/>
<line x1="1276.2" y1="669.9" x2="1290.7" y2="669.9"/>
<line x1="1276.2" y1="561.9" x2="1290.7" y2="561.9"/>
<line x1="1276.2" y1="453.8" x2="1290.7" y2="453.8"/>
<line x1="1276.2" y1="345.7" x2="1290.7" y2="345.7"/>
<line x1="1276.2" y1="237.6" x2="1290.7" y2="237.6"/>
<line x1="1276.2" y1="129.5" x2="1290.7" y2="129.5"/>
</g>
<rect class="cbf" x="1193.2" y="109.5" width="81.8" height="902.3"/>
<text class="cbl" x="1300.5" y="1013.8">2.000</text>
<text class="cbl" x="1300.5" y="905.7">4.256</text>
<text class="cbl" x="1300.5" y="797.6">6.513</text>
<text class="cbl" x="1300.5" y="689.5">8.769</text>
<text class="cbl" x="1300.5" y="581.5">11.03</text>
<text class="cbl" x="1300.5" y="473.4">13.28</text>
<text class="cbl" x="1300.5" y="365.3">15.54</text>
<text class="cbl" x="1300.5" y="257.2">17.79</text>
<text class="cbl" x="1300.5" y="149.1">20.05</text>
<text class="cbt" x="1096" y="71">可靠度指标</text>
<!-- panel b -->
<g class="pl">
<rect x="1880.6" y="111.4" width="768.7" height="898.8" fill="#0000ff"/>
<path fill="#0016ff" d="M2013.6,111.4L2002.4,122.4L2002.1,123.4L1981.4,144.4L1981.0,145.4L1969.4,157.4L1880.6,299.1L1880.6,1010.2L2649.3,1010.2L2649.3,111.4Z"/>
<path fill="#002bff" d="M2069.6,112.0L2069.3,113.4L2067.3,115.4L2066.6,117.4L2065.3,118.4L2064.6,120.3L2060.8,125.4L1987.6,188.2L1985.6,190.4L1980.6,194.2L1977.4,197.4L1973.6,200.2L1970.5,203.4L1958.3,228.4L1957.4,229.4L1957.3,230.4L1956.4,231.4L1956.4,232.4L1955.4,233.4L1955.4,234.4L1954.3,235.4L1954.4,236.4L1953.3,237.4L1953.5,238.4L1952.3,239.4L1952.5,240.4L1951.3,241.4L1951.6,242.4L1950.6,244.4L1942.4,260.4L1942.3,261.4L1941.4,262.4L1941.3,263.4L1940.3,264.4L1940.4,265.4L1939.3,266.4L1939.4,267.4L1938.3,268.4L1938.4,269.4L1937.3,270.4L1937.5,271.4L1936.3,272.4L1936.5,273.4L1935.3,274.4L1935.6,275.4L1934.3,276.4L1934.6,277.4L1933.2,278.4L1933.5,279.4L1932.2,280.4L1932.1,282.4L1927.3,292.4L1926.3,293.4L1926.3,294.4L1925.3,295.4L1925.3,296.4L1924.3,297.4L1924.4,298.4L1923.3,299.4L1923.4,300.4L1922.3,301.4L1922.5,302.4L1921.3,303.4L1921.5,304.4L1920.2,305.4L1920.6,306.4L1919.2,307.4L1919.6,308.4L1918.2,309.4L1918.5,310.4L1917.2,311.4L1917.5,312.4L1916.2,313.4L1916.4,314.4L1915.2,315.4L1915.4,316.4L1914.2,317.4L1914.4,318.4L1913.2,319.4L1913.6,322.4L1913.3,323.4L1912.2,324.4L1912.4,329.4L1911.1,330.4L1911.4,335.4L1910.1,336.4L1910.5,341.4L1909.1,342.4L1909.6,347.4L1908.1,348.4L1908.5,353.4L1908.3,354.4L1907.1,355.4L1907.3,360.4L1906.0,361.4L1906.4,366.4L1905.0,367.4L1905.5,372.4L1904.0,373.4L1904.6,378.4L1903.0,380.4L1903.5,384.4L1903.2,385.4L1902.0,386.4L1902.3,391.4L1901.0,392.4L1901.4,397.4L1899.9,398.4L1900.5,403.4L1898.9,404.4L1899.5,411.4L1899.2,412.4L1897.9,413.4L1898.5,421.4L1898.2,422.4L1896.9,423.4L1897.6,431.4L1897.2,432.4L1895.9,433.4L1896.5,441.4L1896.2,442.4L1894.9,443.4L1895.5,451.4L1895.3,452.4L1893.9,453.4L1894.3,462.4L1892.9,463.4L1893.4,472.4L1893.1,473.4L1891.8,474.4L1892.5,482.4L1890.8,484.4L1891.5,492.4L1889.8,494.4L1890.5,502.4L1890.1,503.4L1888.8,504.4L1889.4,512.4L1889.2,513.4L1887.8,514.4L1888.3,522.4L1888.2,523.4L1886.8,524.4L1887.3,533.4L1885.8,534.4L1886.4,543.4L1884.8,545.4L1885.5,553.4L1883.8,555.4L1884.0,561.4L1884.6,563.4L1882.8,565.4L1883.4,573.4L1883.1,574.4L1881.8,575.4L1882.3,583.4L1882.1,584.4L1880.8,585.4L1881.2,593.4L1881.2,594.4L1880.6,594.5L1880.6,1010.2L2649.3,1010.2L2649.3,111.4L2070.5,111.4Z"/>
<path fill="#0041ff" d="M2110.6,111.6L2079.6,142.3L2042.6,167.2L2024.6,181.3L2012.7,192.4L1988.6,217.3L1934.2,327.4L1919.5,388.4L1915.7,409.4L1880.6,703.8L1880.6,1010.2L2649.3,1010.2L2649.3,111.4Z"/>
<path fill="#0057ff" d="M2174.4,111.4L2102.8,159.4L2046.6,188.1L2037.6,194.6L2029.7,202.4L2006.5,231.4L1955.2,332.4L1939.6,378.4L1933.9,397.4L1931.4,411.4L1920.1,495.4L1889.3,711.4L1880.6,840.7L1880.6,1010.2L2649.3,1010.2L2649.3,111.4Z"/>
<path fill="#006dff" d="M2264.6,111.5L2184.6,156.3L2123.5,181.4L2056.6,204.7L2052.6,206.7L2048.9,209.4L2044.7,214.4L2024.3,245.4L1975.5,339.4L1955.2,386.4L1948.5,405.4L1934.3,497.4L1898.8,712.4L1894.0,809.4L1881.5,1010.2L2649.3,1010.2L2649.3,111.4Z"/>
<path fill="#0082ff" d="M2413.6,111.6L2406.6,114.0L2404.1,115.4L2398.6,117.0L2396.4,118.4L2390.6,120.0L2388.6,121.4L2377.6,125.1L2375.3,126.4L2369.6,128.0L2367.6,129.4L2362.6,131.1L2361.6,131.0L2354.6,134.2L2353.6,134.0L2346.4,137.4L2340.6,139.1L2338.5,140.4L2333.6,142.2L2332.6,142.0L2325.6,145.3L2324.6,145.0L2323.6,145.9L2319.6,147.1L2317.6,148.4L2312.6,150.2L2311.6,150.1L2304.6,153.3L2303.6,153.0L2296.6,156.4L2295.6,156.0L2294.6,157.0L2290.6,158.1L2283.6,161.2L2282.6,161.1L2275.6,164.3L2274.6,164.1L2273.6,165.0L2269.6,166.1L2267.6,167.4L2266.6,167.0L2265.6,168.0L2262.6,169.2L2261.6,169.1L2254.6,172.3L2253.6,172.1L2252.6,172.9L2248.6,174.1L2246.6,175.4L2245.6,175.1L2244.6,176.0L2240.6,177.1L2238.6,178.4L2237.6,178.1L2236.6,179.1L2233.6,180.3L2232.6,180.1L2230.6,181.3L2229.6,181.0L2228.6,182.1L2225.6,183.3L2224.6,183.1L2223.6,184.0L2219.6,185.1L2217.6,186.4L2216.6,186.1L2215.6,187.1L2212.6,188.3L2211.6,188.1L2209.6,189.3L2208.6,189.1L2207.6,190.1L2204.6,191.3L2203.6,191.1L2201.6,192.3L2200.6,192.1L2199.6,193.2L2198.6,193.2L2196.6,194.4L2194.6,194.1L2193.6,195.0L2190.6,195.1L2187.6,196.3L2185.6,196.1L2182.6,197.4L2180.6,197.1L2179.6,198.0L2176.6,198.2L2173.6,199.3L2171.6,199.1L2168.6,200.4L2166.6,200.1L2165.6,201.0L2162.6,201.2L2159.6,202.3L2157.6,202.2L2154.6,203.4L2152.6,203.2L2150.6,204.2L2148.6,204.2L2145.6,205.3L2143.6,205.2L2140.6,206.3L2138.6,206.2L2136.6,207.2L2129.6,208.2L2126.6,209.3L2124.6,209.2L2121.6,210.4L2115.6,211.2L2112.6,212.3L2110.6,212.2L2109.6,213.0L2101.6,214.2L2098.6,215.3L2096.6,215.2L2095.6,216.0L2087.6,217.3L2084.6,218.3L2082.6,218.2L2081.6,218.9L2073.6,220.3L2071.6,221.1L2068.6,221.3L2067.6,221.9L2061.6,223.2L2060.5,224.4L1977.5,380.4L1970.2,394.4L1964.0,408.4L1947.6,504.4L1946.4,508.4L1944.6,520.4L1943.4,524.4L1941.5,536.4L1940.4,540.4L1908.3,713.4L1904.6,819.8L1901.8,873.4L1901.4,874.4L1901.6,879.4L1900.9,891.4L1900.3,892.4L1900.6,899.4L1899.9,909.4L1899.3,910.4L1899.6,919.4L1899.0,928.4L1898.2,929.4L1898.5,939.4L1898.1,946.4L1897.2,947.4L1897.6,958.4L1897.2,964.4L1896.2,965.4L1896.6,978.4L1896.3,982.4L1895.2,983.4L1895.6,998.4L1895.4,1000.4L1894.1,1001.4L1894.2,1010.2L2649.3,1010.2L2649.3,111.4Z"/>
<path fill="#0098ff" d="M2454.4,111.4L2356.6,157.8L2204.4,217.4L2158.6,229.0L2078.6,245.4L2039.6,298.5L2019.6,328.6L2011.0,343.4L1989.9,382.4L1981.4,399.4L1976.3,411.4L1958.7,502.4L1931.8,631.4L1917.1,709.4L1916.3,714.4L1912.6,810.4L1901.8,1010.2L2649.3,1010.2L2649.3,111.4Z"/>
<path fill="#00aeff" d="M2482.6,111.7L2370.6,176.5L2213.6,239.9L2166.6,253.9L2095.6,267.8L2044.6,318.6L2033.6,331.5L2024.6,344.2L2000.0,388.4L1992.6,404.4L1988.2,415.4L1969.4,503.4L1939.5,633.4L1925.3,708.4L1924.3,715.4L1920.0,810.4L1908.5,1010.2L2649.3,1010.2L2649.3,111.4Z"/>
<path fill="#00c3ff" d="M2504.6,111.7L2383.9,195.4L2214.6,265.5L2174.6,278.7L2111.6,290.9L2050.6,334.7L2040.6,343.9L2033.2,353.4L2010.6,393.3L2000.1,419.4L1979.8,505.4L1947.3,635.4L1933.1,709.4L1932.2,716.4L1927.5,811.4L1915.3,1010.2L2649.3,1010.2L2649.3,111.4Z"/>
<path fill="#00d9ff" d="M2522.3,111.4L2397.6,214.0L2217.6,290.6L2181.6,303.9L2129.1,313.4L2055.6,349.7L2048.6,354.5L2042.4,361.4L2021.2,398.4L2012.2,422.4L1990.3,507.4L1955.0,637.4L1941.0,710.4L1940.2,717.4L1934.9,811.4L1922.1,1010.2L2649.3,1010.2L2649.3,111.4Z"/>
<path fill="#00efff" d="M2536.2,111.4L2411.6,232.4L2236.6,309.4L2189.6,328.8L2146.1,336.4L2058.6,363.8L2054.6,366.0L2051.5,369.4L2031.7,403.4L2024.0,426.4L2004.3,497.4L1962.7,639.4L1948.8,711.4L1928.9,1010.2L2649.3,1010.2L2649.3,111.4Z"/>
<path fill="#00fffa" d="M2547.6,111.4L2543.5,115.4L2543.4,116.4L2536.4,123.4L2536.4,124.4L2529.4,131.4L2529.4,132.4L2522.4,139.4L2522.3,140.4L2515.4,147.4L2515.3,148.4L2508.4,155.4L2508.3,156.4L2500.4,164.4L2500.4,165.4L2493.4,172.4L2493.3,173.4L2486.4,180.4L2486.3,181.4L2479.4,188.4L2479.3,189.4L2477.5,191.4L2472.3,196.4L2472.2,197.4L2470.5,199.4L2464.3,205.4L2464.3,206.4L2457.3,213.4L2457.3,214.4L2450.3,221.4L2450.3,222.4L2443.3,229.4L2443.3,230.4L2436.3,237.4L2436.2,238.4L2429.3,245.4L2429.2,246.4L2425.6,250.2L2424.6,250.1L2423.6,251.3L2422.2,251.4L2421.6,252.4L2420.6,252.1L2419.6,253.3L2418.6,253.1L2415.6,255.1L2413.6,255.1L2412.6,256.3L2411.2,256.4L2410.6,257.4L2409.6,257.1L2408.6,258.3L2407.6,258.2L2404.6,260.0L2402.6,260.1L2401.6,261.3L2400.6,261.1L2399.6,262.4L2398.6,262.1L2397.6,263.2L2396.6,263.2L2393.6,265.0L2391.6,265.1L2390.6,266.4L2389.6,266.1L2388.6,267.3L2387.6,267.2L2386.6,268.2L2385.6,268.2L2382.6,270.0L2380.6,270.1L2379.6,271.4L2378.6,271.1L2377.6,272.3L2376.6,272.2L2375.6,273.2L2374.6,273.2L2371.6,275.0L2369.6,275.1L2368.6,276.4L2367.6,276.1L2366.6,277.3L2365.6,277.2L2364.6,278.2L2363.6,278.2L2360.6,280.0L2358.6,280.1L2357.6,281.4L2356.6,281.2L2355.6,282.3L2354.6,282.2L2353.6,283.2L2348.6,285.4L2347.6,285.1L2346.6,286.3L2345.6,286.2L2344.6,287.2L2343.6,287.2L2337.6,290.4L2336.6,290.1L2335.6,291.3L2334.6,291.2L2333.6,292.2L2332.6,292.2L2326.6,295.4L2325.6,295.2L2324.6,296.3L2323.6,296.2L2322.6,297.2L2321.6,297.2L2315.6,300.4L2314.6,300.2L2313.6,301.3L2312.6,301.2L2311.6,302.2L2307.6,304.0L2305.6,304.1L2304.6,305.3L2303.6,305.2L2302.6,306.2L2301.6,306.2L2295.6,309.4L2294.6,309.2L2293.6,310.3L2292.6,310.2L2291.6,311.2L2290.6,311.2L2284.6,314.4L2283.6,314.2L2282.6,315.3L2281.6,315.2L2280.6,316.2L2279.6,316.2L2273.6,319.4L2272.6,319.2L2271.6,320.3L2270.6,320.2L2269.6,321.2L2262.6,324.3L2261.6,324.2L2260.6,325.2L2259.6,325.2L2258.6,326.1L2251.6,329.3L2250.6,329.2L2249.6,330.2L2248.6,330.2L2240.6,334.3L2239.6,334.2L2238.6,335.2L2237.6,335.2L2229.6,339.3L2228.6,339.2L2227.6,340.2L2218.6,344.2L2217.6,344.2L2216.6,345.1L2207.6,349.2L2206.6,349.2L2197.6,353.7L2106.6,369.0L2101.6,369.3L2100.6,370.0L2095.6,370.3L2094.6,371.0L2089.6,371.3L2088.6,372.0L2083.6,372.3L2082.6,373.0L2077.6,373.4L2076.6,374.0L2071.6,374.4L2069.6,375.1L2065.6,375.4L2061.6,376.3L2060.6,377.4L2044.6,404.4L2041.6,410.4L2041.4,412.4L2040.5,413.4L2040.3,416.4L2038.5,420.4L2038.4,422.4L2037.5,423.4L2036.3,429.4L2035.5,430.4L2035.4,432.4L2034.5,433.4L2034.5,435.4L2033.5,436.4L2033.3,439.4L2032.5,440.4L2032.4,442.4L2031.5,443.4L2031.5,445.4L2030.5,446.4L2030.4,449.4L2029.5,450.4L2029.4,452.4L2028.5,453.4L2028.5,455.4L2027.5,456.4L2027.5,458.4L2026.5,459.4L2026.4,462.4L2025.5,463.4L2025.5,465.4L2024.5,466.4L2024.5,468.4L2023.5,469.4L2023.4,472.4L2022.5,473.4L2022.5,475.4L2021.5,476.4L2021.5,478.4L2020.5,479.4L2020.6,481.4L2019.5,482.4L2019.5,485.4L2018.5,486.4L2018.5,488.4L2017.5,489.4L2017.6,491.4L2016.5,492.4L2016.5,495.4L2015.5,496.4L2015.6,498.4L2014.5,499.4L2014.6,501.4L2013.5,502.4L2013.6,504.4L2012.5,505.4L2012.5,508.4L2011.5,509.4L2011.5,511.4L2010.5,512.4L2010.5,514.4L2009.5,515.4L2009.6,517.4L2008.5,518.4L2008.6,520.4L2007.5,521.4L2007.5,524.4L2006.5,525.4L2006.5,527.4L2005.5,528.4L2005.5,530.4L2004.5,531.4L2004.5,533.4L2003.5,534.4L2003.6,536.4L2002.5,537.4L2002.4,540.4L2001.5,541.4L2001.5,543.4L2000.5,544.4L2000.5,546.4L1999.5,547.4L1999.5,549.4L1998.5,550.4L1998.5,552.4L1997.5,553.4L1997.4,556.4L1996.5,557.4L1996.4,559.4L1995.5,560.4L1995.5,562.4L1994.5,563.4L1994.5,565.4L1993.5,566.4L1993.5,568.4L1992.5,569.4L1992.4,572.4L1991.5,573.4L1991.4,575.4L1990.5,576.4L1990.4,578.4L1989.5,579.4L1989.5,581.4L1988.5,582.4L1988.5,584.4L1987.5,585.4L1987.3,588.4L1986.5,589.4L1986.4,591.4L1985.5,592.4L1985.4,594.4L1984.5,595.4L1984.4,597.4L1983.5,598.4L1983.5,600.4L1982.5,601.4L1982.3,604.4L1980.5,608.4L1980.4,610.4L1979.5,611.4L1979.4,613.4L1978.5,614.4L1978.4,616.4L1977.5,617.4L1977.2,620.4L1975.5,624.4L1975.3,626.4L1974.5,627.4L1974.4,629.4L1973.5,630.4L1973.4,632.4L1972.5,633.4L1972.2,636.4L1969.5,644.4L1968.3,653.4L1967.5,654.4L1967.3,658.4L1966.5,659.4L1966.1,664.4L1965.5,665.4L1965.2,669.4L1964.5,670.4L1964.2,674.4L1963.5,675.4L1963.2,679.4L1962.5,680.4L1962.3,684.4L1961.5,685.4L1961.3,689.4L1960.5,690.4L1960.3,694.4L1959.5,695.4L1959.3,699.4L1958.5,701.4L1958.2,705.4L1957.5,706.4L1957.2,710.4L1956.5,711.4L1956.2,719.4L1955.5,720.4L1955.3,733.4L1954.5,734.4L1954.3,747.4L1953.4,748.4L1953.4,761.4L1952.4,762.4L1952.4,775.4L1951.4,776.4L1951.5,789.4L1950.4,790.4L1950.5,803.4L1949.4,804.4L1949.5,817.4L1948.4,818.4L1948.5,831.4L1947.4,832.4L1947.5,845.4L1946.4,846.4L1946.5,859.4L1945.4,860.4L1945.5,874.4L1944.4,875.4L1944.5,888.4L1943.4,889.4L1943.5,902.4L1942.4,903.4L1942.4,917.4L1941.4,918.4L1941.4,931.4L1940.4,932.4L1940.4,945.4L1939.4,946.4L1939.4,958.4L1939.4,959.4L1938.4,960.4L1938.5,971.4L1938.3,974.4L1937.4,975.4L1937.6,983.4L1937.3,988.4L1936.4,989.4L1936.6,997.4L1936.3,1002.4L1935.4,1003.4L1935.5,1010.2L2649.3,1010.2L2649.3,111.4Z"/>
<path fill="#00ffe4" d="M2571.8,111.4L2438.0,261.4L2433.6,265.1L2361.6,303.3L2324.6,320.6L2206.6,380.5L2201.6,382.2L2086.6,411.5L2085.1,412.4L2077.6,423.8L2043.4,508.4L1996.6,620.2L1987.4,644.4L1985.5,651.4L1977.0,689.4L1971.8,715.4L1963.3,810.4L1943.9,1010.2L2649.3,1010.2L2649.3,111.4Z"/>
<path fill="#00ffce" d="M2596.3,111.4L2450.3,272.4L2441.6,279.9L2374.6,321.1L2349.6,332.7L2337.6,338.8L2216.6,407.4L2207.6,411.3L2111.6,445.2L2110.6,446.1L2072.8,518.4L2011.6,632.9L2003.9,649.4L2001.1,658.4L1991.8,694.4L1987.2,717.4L1978.1,799.4L1952.2,1010.2L2649.3,1010.2L2649.3,111.4Z"/>
<path fill="#00ffb8" d="M2621.1,111.4L2462.6,283.4L2456.5,289.4L2449.6,295.1L2387.6,338.8L2360.6,351.5L2351.5,356.4L2227.6,434.3L2213.6,441.8L2138.6,476.3L2137.6,477.4L2025.5,646.4L2020.8,654.4L2016.5,665.4L2006.6,699.4L2002.5,719.4L1991.6,801.4L1960.5,1010.2L2649.3,1010.2L2649.3,111.4Z"/>
<path fill="#00ffa3" d="M2646.4,111.4L2474.6,294.6L2465.6,303.6L2455.6,312.3L2399.6,357.1L2371.6,370.2L2365.6,373.6L2236.6,463.2L2220.6,473.2L2163.6,506.4L2038.6,659.9L2034.6,666.1L2031.7,672.4L2020.6,707.4L2017.9,721.4L2005.0,804.4L1968.9,1010.2L2649.3,1010.2L2649.3,111.4Z"/>
<path fill="#00ff8d" d="M2649.2,135.4L2481.6,311.1L2464.6,327.5L2413.2,374.4L2381.6,389.5L2377.6,391.9L2248.6,490.8L2188.6,533.6L2049.1,675.4L2046.3,680.4L2035.8,710.4L2018.3,807.4L1977.4,1010.2L2649.3,1010.2Z"/>
<path fill="#00ff77" d="M2649.3,161.7L2602.4,209.4L2602.3,210.4L2598.4,214.4L2570.4,242.4L2570.3,243.4L2568.3,245.4L2537.4,276.4L2537.3,277.4L2505.4,309.4L2505.3,310.4L2473.4,342.4L2473.3,343.4L2441.4,375.4L2441.3,376.4L2425.6,392.3L2390.6,409.4L2388.6,411.6L2384.7,414.4L2201.6,568.2L2177.6,588.9L2176.6,589.2L2152.6,610.0L2151.6,610.2L2146.6,615.1L2145.6,615.2L2142.6,618.4L2139.6,621.0L2138.6,621.2L2133.6,626.0L2132.6,626.2L2127.6,631.1L2126.6,631.2L2121.6,636.2L2120.6,636.2L2114.6,642.1L2113.6,642.2L2108.6,647.1L2107.6,647.2L2102.6,652.2L2101.6,652.2L2096.6,657.2L2095.6,657.2L2090.6,662.3L2089.6,662.2L2083.6,668.2L2082.6,668.2L2077.6,673.3L2076.6,673.2L2071.6,678.3L2070.6,678.2L2065.6,683.3L2064.6,683.2L2061.5,686.4L2060.5,689.4L2059.5,690.4L2059.4,692.4L2058.5,693.4L2058.5,694.4L2057.5,695.4L2057.4,697.4L2056.5,698.4L2056.5,699.4L2055.5,700.4L2055.6,701.4L2054.5,702.4L2054.6,704.4L2052.5,707.4L2052.6,709.4L2050.4,712.4L2050.6,715.4L2049.4,716.4L2049.6,720.4L2048.4,721.4L2048.6,725.4L2047.4,726.4L2047.6,730.4L2046.4,731.4L2046.6,735.4L2045.4,736.4L2045.5,741.4L2044.5,742.4L2044.5,746.4L2043.5,747.4L2043.5,751.4L2042.5,752.4L2042.5,756.4L2041.5,757.4L2041.5,761.4L2040.5,762.4L2040.5,766.4L2039.5,767.4L2039.5,771.4L2038.5,772.4L2038.5,776.4L2037.5,777.4L2037.5,781.4L2036.5,782.4L2036.3,787.4L2035.5,788.4L2035.3,792.4L2034.5,793.4L2034.3,797.4L2033.5,798.4L2033.3,802.4L2032.5,803.4L2032.4,806.4L2031.5,808.4L2031.2,812.4L2030.5,813.4L2030.3,816.4L2029.5,817.4L2029.4,820.4L2028.5,821.4L2028.3,825.4L2027.5,826.4L2027.3,829.4L2026.5,830.4L2026.4,833.4L2025.5,834.4L2025.3,838.4L2024.5,839.4L2024.4,842.4L2023.5,843.4L2023.4,846.4L2022.5,847.4L2022.3,851.4L2021.5,852.4L2021.4,855.4L2020.5,856.4L2020.4,859.4L2019.4,860.4L2019.3,864.4L2018.5,865.4L2018.4,868.4L2017.5,869.4L2017.3,873.4L2016.5,874.4L2016.4,877.4L2015.5,878.4L2015.4,881.4L2014.4,882.4L2014.3,886.4L2013.5,887.4L2013.4,890.4L2012.5,891.4L2012.4,894.4L2011.4,895.4L2011.3,899.4L2010.5,900.4L2010.4,903.4L2009.4,904.4L2009.5,907.4L2008.4,908.4L2008.4,912.4L2007.4,913.4L2007.4,916.4L2006.4,917.4L2006.5,920.4L2005.4,921.4L2005.4,925.4L2004.4,926.4L2004.4,929.4L2003.4,930.4L2003.5,933.4L2002.4,934.4L2002.4,938.4L2001.4,939.4L2001.5,942.4L2000.4,943.4L2000.5,946.4L1999.4,947.4L1999.4,951.4L1998.4,952.4L1998.5,955.4L1997.4,956.4L1997.6,959.4L1996.4,960.4L1996.4,964.4L1995.4,965.4L1995.5,968.4L1994.4,969.4L1994.4,973.4L1993.4,974.4L1993.5,977.4L1992.4,978.4L1992.5,981.4L1991.3,982.4L1991.4,986.4L1990.4,987.4L1990.5,990.4L1989.3,991.4L1989.6,994.4L1988.3,995.4L1988.4,999.4L1987.3,1000.4L1987.5,1003.4L1986.3,1004.4L1986.6,1007.4L1985.3,1008.4L1985.4,1010.2L2649.3,1010.2Z"/>
<path fill="#00ff62" d="M2649.3,207.5L2444.6,413.4L2438.6,417.8L2406.6,435.3L2206.7,605.4L2093.0,709.4L2086.5,724.4L2072.6,775.4L2059.8,816.4L1994.7,1010.2L2649.3,1010.2Z"/>
<path fill="#00ff4c" d="M2649.3,252.1L2463.6,434.4L2452.6,442.8L2423.6,460.3L2234.6,622.6L2217.6,638.4L2124.6,731.4L2122.6,735.2L2099.6,800.9L2089.8,823.4L2004.4,1010.2L2649.3,1010.2Z"/>
<path fill="#00ff36" d="M2649.3,295.7L2481.6,456.2L2467.6,467.4L2440.6,485.4L2253.6,647.5L2243.6,657.5L2157.4,751.4L2125.6,824.3L2015.4,1010.2L2649.3,1010.2Z"/>
<path fill="#00ff21" d="M2649.1,338.4L2500.6,477.2L2483.6,491.3L2456.6,511.4L2279.3,666.4L2272.1,673.4L2189.4,771.4L2150.6,846.2L2027.9,1010.2L2649.3,1010.2Z"/>
<path fill="#00ff0b" d="M2649.3,379.9L2518.6,499.0L2499.6,515.4L2472.7,537.4L2297.6,692.1L2221.4,790.4L2174.6,867.1L2042.2,1010.2L2649.3,1010.2Z"/>
<path fill="#0bff00" d="M2649.3,420.4L2645.6,423.0L2637.6,430.7L2636.6,431.0L2632.6,435.4L2628.6,438.8L2627.6,439.0L2623.6,443.4L2617.6,448.1L2614.6,451.4L2608.6,456.1L2600.6,463.7L2599.6,464.1L2595.5,468.4L2590.6,472.0L2586.5,476.4L2582.6,479.7L2581.6,480.0L2577.5,484.4L2573.6,487.8L2572.6,488.0L2568.6,492.4L2562.6,497.1L2559.6,500.4L2553.6,505.1L2550.6,508.4L2544.6,513.1L2537.0,520.4L2535.6,521.1L2531.5,525.4L2526.6,529.1L2522.5,533.4L2518.6,536.8L2517.6,537.1L2513.6,541.3L2507.6,546.1L2490.6,561.7L2489.6,562.1L2486.6,565.4L2480.6,570.1L2477.6,573.4L2471.6,578.1L2467.4,582.4L2462.6,586.1L2458.5,590.4L2434.6,611.1L2431.5,614.4L2425.6,619.1L2422.6,622.4L2416.6,627.1L2413.6,630.4L2407.6,635.1L2404.6,638.4L2361.6,676.2L2358.6,679.4L2352.6,684.1L2349.6,687.4L2320.6,713.2L2316.4,718.4L2315.6,720.2L2309.4,728.4L2305.6,734.4L2304.4,735.4L2301.6,740.0L2299.3,742.4L2298.6,744.3L2293.6,751.4L2292.4,752.4L2289.3,757.4L2287.3,759.4L2286.6,761.3L2281.6,768.4L2280.4,769.4L2277.3,774.4L2275.3,776.4L2274.6,778.3L2269.6,785.4L2268.4,786.4L2264.5,792.4L2263.3,793.4L2262.6,795.3L2258.3,800.4L2257.6,802.4L2256.3,803.4L2253.6,807.9L2251.3,810.4L2248.3,815.4L2246.3,817.4L2245.6,819.4L2239.3,827.4L2236.3,832.4L2234.3,834.4L2233.6,836.4L2227.3,844.4L2224.3,849.4L2222.3,851.4L2221.6,853.4L2217.3,858.4L2217.3,859.4L2215.4,861.4L2212.3,866.4L2210.3,868.4L2210.2,869.4L2208.4,871.4L2207.4,873.4L2205.3,875.4L2205.3,876.4L2203.4,878.4L2200.4,883.4L2198.3,885.4L2197.6,887.4L2193.6,890.9L2192.6,891.1L2188.6,895.4L2184.6,898.9L2183.6,899.2L2176.6,906.0L2175.6,906.1L2170.6,911.3L2167.6,913.9L2166.6,914.2L2162.6,918.4L2158.6,921.9L2157.6,922.2L2150.6,929.0L2149.6,929.2L2142.6,936.1L2140.6,937.2L2124.6,952.0L2123.6,952.2L2115.6,960.0L2114.6,960.2L2106.6,968.0L2105.6,968.2L2098.6,975.1L2097.6,975.2L2089.6,983.1L2088.6,983.3L2080.6,991.1L2079.6,991.3L2072.6,998.1L2071.6,998.3L2058.8,1010.2L2649.3,1010.2Z"/>
<path fill="#21ff00" d="M2649.3,438.8L2420.4,650.4L2338.6,728.8L2215.6,902.5L2103.1,1010.2L2649.3,1010.2Z"/>
<path fill="#36ff00" d="M2649.3,457.7L2435.0,663.4L2356.6,744.4L2233.6,917.7L2144.3,1010.2L2649.3,1010.2Z"/>
<path fill="#4cff00" d="M2649.2,477.4L2450.5,675.4L2374.1,760.4L2252.0,932.4L2245.4,940.4L2182.6,1010.2L2649.3,1010.2Z"/>
<path fill="#62ff00" d="M2649.3,497.7L2463.2,690.4L2391.6,776.6L2271.0,946.4L2261.6,958.4L2218.4,1010.2L2649.3,1010.2Z"/>
<path fill="#77ff00" d="M2649.3,518.9L2479.3,701.4L2409.3,792.4L2290.6,959.4L2251.9,1010.2L2649.3,1010.2Z"/>
<path fill="#8dff00" d="M2649.3,540.6L2493.4,714.4L2283.2,1010.2L2649.3,1010.2Z"/>
<path fill="#a3ff00" d="M2649.3,560.7L2550.0,671.4L2506.6,722.4L2357.6,935.4L2302.1,1010.2L2649.3,1010.2Z"/>
<path fill="#b8ff00" d="M2649.3,580.6L2559.7,680.4L2517.8,732.4L2371.5,945.4L2321.4,1010.2L2649.3,1010.2Z"/>
<path fill="#ceff00" d="M2649.3,600.4L2570.3,688.4L2529.9,741.4L2384.8,956.4L2341.3,1010.2L2649.3,1010.2Z"/>
<path fill="#e4ff00" d="M2649.2,620.4L2579.3,698.4L2541.3,751.4L2398.6,966.6L2361.9,1010.2L2649.3,1010.2Z"/>
<path fill="#faff00" d="M2649.3,640.1L2590.6,705.5L2553.3,760.4L2412.0,977.4L2383.3,1010.2L2649.3,1010.2Z"/>
<path fill="#ffef00" d="M2649.3,659.6L2600.6,714.4L2426.0,987.4L2405.3,1010.2L2649.3,1010.2Z"/>
<path fill="#ffd900" d="M2649.3,682.7L2614.6,723.5L2439.6,996.8L2428.3,1010.2L2649.3,1010.2Z"/>
<path fill="#ffc300" d="M2649.3,707.1L2627.6,734.1L2450.3,1010.2L2649.3,1010.2Z"/>
<path fill="#ffae00" d="M2649.1,733.4L2640.8,744.4L2470.3,1010.2L2649.3,1010.2Z"/>
<path fill="#ff9800" d="M2649.3,762.0L2643.6,770.9L2490.0,1010.2L2649.3,1010.2Z"/>
<path fill="#ff8200" d="M2649.3,792.8L2648.6,793.9L2509.7,1010.2L2649.3,1010.2Z"/>
<path fill="#ff6d00" d="M2649.3,823.5L2647.3,825.4L2647.5,826.4L2644.4,830.4L2644.3,831.4L2642.4,833.4L2642.4,834.4L2640.4,836.4L2640.5,837.4L2638.3,839.4L2638.5,840.4L2635.4,844.4L2635.3,845.4L2633.4,847.4L2633.4,848.4L2631.4,850.4L2631.5,851.4L2628.4,855.4L2627.6,857.4L2626.4,858.4L2626.3,859.4L2624.4,861.4L2624.4,862.4L2622.4,864.4L2622.5,865.4L2619.4,869.4L2618.6,871.4L2617.4,872.4L2617.3,873.4L2615.4,875.4L2615.4,876.4L2610.4,883.4L2609.6,885.4L2608.4,886.4L2608.3,887.4L2606.4,889.4L2606.4,890.4L2601.4,897.4L2600.6,899.4L2599.4,900.4L2599.3,901.4L2592.4,911.4L2591.6,913.4L2590.4,914.4L2590.3,915.4L2583.4,925.4L2582.6,927.4L2581.4,928.4L2581.3,929.4L2574.4,939.4L2574.2,940.4L2566.5,952.4L2565.4,953.4L2565.2,954.4L2529.4,1010.2L2649.3,1010.2Z"/>
<path fill="#ff5700" d="M2649.3,855.1L2622.6,896.6L2549.6,1010.2L2649.3,1010.2Z"/>
<path fill="#ff4100" d="M2649.3,886.5L2614.6,940.5L2569.8,1010.2L2649.3,1010.2Z"/>
<path fill="#ff2b00" d="M2649.3,918.0L2622.6,959.5L2590.0,1010.2L2649.3,1010.2Z"/>
<path fill="#ff1600" d="M2649.3,949.4L2645.4,955.4L2610.2,1010.2L2649.3,1010.2Z"/>
<path fill="#ff0000" d="M2649.3,980.8L2634.8,1003.4L2630.4,1010.2L2649.3,1010.2Z"/>
</g>
<g class="cl" clip-path="url(#clipb)">
<polyline points="2444,100.3 2416,111 2196.3,194.5 2061.4,223.2 1970.4,394.1 1964.1,408 1948.4,500 1908.3,713.3 1905.1,810 1895,1010 1893.5,1040"/>
<polyline points="2567.8,88.4 2548,111 2425.6,250.6 2197,354 2061.4,376.2 2042.5,408 2015,500 1970.4,641.5 1956.5,713.3 1950,810 1935.7,1010 1933.6,1039.9"/>
<polyline points="2671.9,138.5 2651,160 2425.6,392.5 2391.1,409 2061.4,686.8 2051,713.3 2031.6,810 1986,1010 1979.3,1039.2"/>
<polyline points="2673.4,399 2651,419 2320.5,713.3 2197.5,887.5 2059,1010 2036.5,1029.9"/>
<polyline points="2671,516.7 2651,539 2494.6,713.3 2283.5,1010 2266.1,1034.4"/>
<polyline points="2671.1,635.7 2651,658 2601.3,713.3 2425.6,988 2405.5,1010 2385.3,1032.1"/>
<polyline points="2667.2,795.8 2651,821 2529.5,1010 2513.3,1035.2"/>
</g>
<g class="ti">
<line x1="1880.6" y1="407.2" x2="1897.1" y2="407.2"/>
<line x1="1880.6" y1="713.3" x2="1897.1" y2="713.3"/>
<line x1="1969.5" y1="1010.2" x2="1969.5" y2="992.7"/>
<line x1="2196.4" y1="1010.2" x2="2196.4" y2="992.7"/>
<line x1="2424.5" y1="1010.2" x2="2424.5" y2="992.7"/>
</g>
<rect class="fr" x="1880.6" y="111.4" width="768.7" height="898.8"/>
<text class="tk" text-anchor="end" x="1855" y="142">350</text>
<text class="tk" text-anchor="end" x="1855" y="440.8">300</text>
<text class="tk" text-anchor="end" x="1855" y="745.2">250</text>
<text class="tk" text-anchor="end" x="1855" y="1038.6">200</text>
<text class="tk" text-anchor="middle" x="1968.5" y="1104.6">10</text>
<text class="tk" text-anchor="middle" x="2196" y="1104.6">15</text>
<text class="tk" text-anchor="middle" x="2424.5" y="1104.6">20</text>
<text class="tk" text-anchor="middle" x="2654" y="1104.6">25</text>
<text class="tk" x="1892.5" y="67.8">(b)</text>
<text class="tk" x="2179.3" y="1233"><tspan class="cj" dy="7">间距</tspan><tspan dy="-7" dx="-2">/m</tspan></text>
<text class="tk" transform="translate(1637 790) rotate(-90)"><tspan class="cj" dy="9.5">车速</tspan><tspan dy="-9.5">/(km</tspan><tspan font-size="124" dy="14.7" dx="-3">·</tspan><tspan dy="-14.7" dx="-0.7">h</tspan><tspan font-size="60" dy="-33" dx="-1.5">−</tspan><tspan font-size="60" dy="2" dx="-1.5">1</tspan><tspan dy="31" dx="2.2">)</tspan></text>
<g class="cb">
<rect x="2759.2" y="108.3" width="85.7" height="21.2" fill="#fff"/>
<rect x="2759.2" y="994.2" width="85.7" height="18.8" fill="#000"/>
<rect x="2759.2" y="976.19" width="85.7" height="18.61" fill="#0000ff"/>
<rect x="2759.2" y="958.17" width="85.7" height="18.61" fill="#0016ff"/>
<rect x="2759.2" y="940.16" width="85.7" height="18.61" fill="#002bff"/>
<rect x="2759.2" y="922.14" width="85.7" height="18.61" fill="#0041ff"/>
<rect x="2759.2" y="904.13" width="85.7" height="18.61" fill="#0057ff"/>
<rect x="2759.2" y="886.11" width="85.7" height="18.61" fill="#006dff"/>
<rect x="2759.2" y="868.10" width="85.7" height="18.61" fill="#0082ff"/>
<rect x="2759.2" y="850.08" width="85.7" height="18.61" fill="#0098ff"/>
<rect x="2759.2" y="832.07" width="85.7" height="18.61" fill="#00aeff"/>
<rect x="2759.2" y="814.05" width="85.7" height="18.61" fill="#00c3ff"/>
<rect x="2759.2" y="796.04" width="85.7" height="18.61" fill="#00d9ff"/>
<rect x="2759.2" y="778.03" width="85.7" height="18.61" fill="#00efff"/>
<rect x="2759.2" y="760.01" width="85.7" height="18.61" fill="#00fffa"/>
<rect x="2759.2" y="742.00" width="85.7" height="18.61" fill="#00ffe4"/>
<rect x="2759.2" y="723.98" width="85.7" height="18.61" fill="#00ffce"/>
<rect x="2759.2" y="705.97" width="85.7" height="18.61" fill="#00ffb8"/>
<rect x="2759.2" y="687.95" width="85.7" height="18.61" fill="#00ffa3"/>
<rect x="2759.2" y="669.94" width="85.7" height="18.61" fill="#00ff8d"/>
<rect x="2759.2" y="651.92" width="85.7" height="18.61" fill="#00ff77"/>
<rect x="2759.2" y="633.91" width="85.7" height="18.61" fill="#00ff62"/>
<rect x="2759.2" y="615.89" width="85.7" height="18.61" fill="#00ff4c"/>
<rect x="2759.2" y="597.88" width="85.7" height="18.61" fill="#00ff36"/>
<rect x="2759.2" y="579.86" width="85.7" height="18.61" fill="#00ff21"/>
<rect x="2759.2" y="561.85" width="85.7" height="18.61" fill="#00ff0b"/>
<rect x="2759.2" y="543.84" width="85.7" height="18.61" fill="#0bff00"/>
<rect x="2759.2" y="525.82" width="85.7" height="18.61" fill="#21ff00"/>
<rect x="2759.2" y="507.81" width="85.7" height="18.61" fill="#36ff00"/>
<rect x="2759.2" y="489.79" width="85.7" height="18.61" fill="#4cff00"/>
<rect x="2759.2" y="471.78" width="85.7" height="18.61" fill="#62ff00"/>
<rect x="2759.2" y="453.76" width="85.7" height="18.61" fill="#77ff00"/>
<rect x="2759.2" y="435.75" width="85.7" height="18.61" fill="#8dff00"/>
<rect x="2759.2" y="417.73" width="85.7" height="18.61" fill="#a3ff00"/>
<rect x="2759.2" y="399.72" width="85.7" height="18.61" fill="#b8ff00"/>
<rect x="2759.2" y="381.70" width="85.7" height="18.61" fill="#ceff00"/>
<rect x="2759.2" y="363.69" width="85.7" height="18.61" fill="#e4ff00"/>
<rect x="2759.2" y="345.67" width="85.7" height="18.61" fill="#faff00"/>
<rect x="2759.2" y="327.66" width="85.7" height="18.61" fill="#ffef00"/>
<rect x="2759.2" y="309.65" width="85.7" height="18.61" fill="#ffd900"/>
<rect x="2759.2" y="291.63" width="85.7" height="18.61" fill="#ffc300"/>
<rect x="2759.2" y="273.62" width="85.7" height="18.61" fill="#ffae00"/>
<rect x="2759.2" y="255.60" width="85.7" height="18.61" fill="#ff9800"/>
<rect x="2759.2" y="237.59" width="85.7" height="18.61" fill="#ff8200"/>
<rect x="2759.2" y="219.57" width="85.7" height="18.61" fill="#ff6d00"/>
<rect x="2759.2" y="201.56" width="85.7" height="18.61" fill="#ff5700"/>
<rect x="2759.2" y="183.54" width="85.7" height="18.61" fill="#ff4100"/>
<rect x="2759.2" y="165.53" width="85.7" height="18.61" fill="#ff2b00"/>
<rect x="2759.2" y="147.51" width="85.7" height="18.61" fill="#ff1600"/>
<rect x="2759.2" y="129.50" width="85.7" height="18.61" fill="#ff0000"/>
<rect x="2759.2" y="994.2" width="85.7" height="18.8" fill="#000"/>
</g>
<g class="cbk">
<line x1="2844.9" y1="994.2" x2="2859.4" y2="994.2"/>
<line x1="2844.9" y1="886.1" x2="2859.4" y2="886.1"/>
<line x1="2844.9" y1="778.0" x2="2859.4" y2="778.0"/>
<line x1="2844.9" y1="669.9" x2="2859.4" y2="669.9"/>
<line x1="2844.9" y1="561.9" x2="2859.4" y2="561.9"/>
<line x1="2844.9" y1="453.8" x2="2859.4" y2="453.8"/>
<line x1="2844.9" y1="345.7" x2="2859.4" y2="345.7"/>
<line x1="2844.9" y1="237.6" x2="2859.4" y2="237.6"/>
<line x1="2844.9" y1="129.5" x2="2859.4" y2="129.5"/>
</g>
<rect class="cbf" x="2760.4" y="109.5" width="83.3" height="902.3"/>
<text class="cbl" x="2868.5" y="1020.8">3.860</text>
<text class="cbl" x="2868.5" y="912.7">4.438</text>
<text class="cbl" x="2868.5" y="804.6">5.015</text>
<text class="cbl" x="2868.5" y="696.5">5.593</text>
<text class="cbl" x="2868.5" y="588.5">6.170</text>
<text class="cbl" x="2868.5" y="480.4">6.748</text>
<text class="cbl" x="2868.5" y="372.3">7.325</text>
<text class="cbl" x="2868.5" y="264.2">7.902</text>
<text class="cbl" x="2868.5" y="156.1">8.480</text>
<text class="cbt" x="2663" y="71">可靠度指标</text>
<!-- panel c -->
<g class="pl">
<rect x="3440.6" y="111.4" width="768.7" height="898.8" fill="#0000ff"/>
<path fill="#0016ff" d="M3440.6,111.4L3440.6,1010.2L4209.3,1010.2L4209.3,111.4Z"/>
<path fill="#002bff" d="M3463.9,111.4L3463.0,134.4L3462.3,135.4L3462.3,151.4L3461.2,152.4L3461.6,165.4L3461.5,166.4L3460.2,167.4L3460.6,178.4L3460.5,179.4L3459.2,180.4L3459.5,192.4L3458.2,193.4L3458.6,204.4L3458.5,205.4L3457.2,206.4L3457.6,217.4L3457.5,218.4L3456.2,219.4L3456.6,230.4L3456.5,231.4L3455.2,232.4L3455.6,243.4L3455.4,244.4L3454.2,245.4L3454.6,256.4L3454.4,257.4L3453.2,258.4L3453.6,269.4L3453.4,270.4L3452.1,271.4L3452.6,282.4L3452.4,283.4L3451.1,284.4L3451.6,295.4L3451.4,296.4L3450.1,297.4L3450.6,308.4L3450.4,309.4L3449.1,310.4L3449.6,321.4L3449.4,322.4L3448.1,323.4L3448.6,334.4L3448.4,335.4L3447.1,336.4L3447.6,347.4L3447.4,348.4L3446.1,349.4L3446.6,360.4L3446.4,361.4L3445.0,362.4L3445.6,373.4L3445.4,374.4L3444.0,375.4L3444.5,386.4L3444.3,387.4L3443.0,388.4L3443.5,399.4L3443.3,400.4L3442.0,401.4L3442.3,428.4L3441.0,429.4L3441.6,468.4L3441.3,472.4L3440.6,472.6L3440.6,1010.2L4209.3,1010.2L4209.3,111.4Z"/>
<path fill="#0041ff" d="M3485.6,111.4L3482.1,132.4L3479.2,161.4L3449.1,407.4L3440.8,713.4L3440.6,1010.2L4209.3,1010.2L4209.3,111.4Z"/>
<path fill="#0057ff" d="M3511.9,111.4L3507.6,119.0L3504.3,126.4L3501.6,134.2L3499.9,141.4L3455.4,405.4L3445.5,713.4L3441.7,1010.2L4209.3,1010.2L4209.3,111.4Z"/>
<path fill="#006dff" d="M3551.1,111.4L3523.6,136.7L3520.1,141.4L3518.0,146.4L3461.5,406.4L3450.3,713.4L3445.6,1010.2L4209.3,1010.2L4209.3,111.4Z"/>
<path fill="#0082ff" d="M3610.6,111.6L3583.6,126.2L3535.2,153.4L3520.3,208.4L3519.4,210.4L3519.6,211.4L3517.4,219.4L3516.3,221.4L3516.5,222.4L3515.3,225.4L3515.5,226.4L3513.0,235.4L3512.3,236.4L3512.5,237.4L3511.3,240.4L3511.5,241.4L3510.0,246.4L3509.2,247.4L3509.2,249.4L3508.2,251.4L3508.6,252.4L3507.3,255.4L3507.5,256.4L3506.2,258.4L3506.3,260.4L3505.2,262.4L3505.2,264.4L3504.2,266.4L3504.6,267.4L3503.2,269.4L3503.5,271.4L3502.2,273.4L3502.3,275.4L3501.2,277.4L3501.2,279.4L3500.1,280.4L3500.6,282.4L3499.2,284.4L3499.5,286.4L3498.2,288.4L3498.3,290.4L3497.1,291.4L3497.5,293.4L3496.2,295.4L3496.6,297.4L3495.2,299.4L3495.5,301.4L3494.1,302.4L3494.3,305.4L3493.2,306.4L3493.3,309.4L3492.2,310.4L3492.6,312.4L3491.2,314.4L3491.5,316.4L3490.2,318.4L3490.4,320.4L3489.2,321.4L3489.3,324.4L3488.2,325.4L3488.5,327.4L3487.2,329.4L3487.5,331.4L3486.2,333.4L3486.4,335.4L3485.2,336.4L3485.3,339.4L3484.2,340.4L3484.3,343.4L3483.2,344.4L3483.6,346.4L3482.2,348.4L3482.5,350.4L3481.3,352.4L3481.4,354.4L3480.2,355.4L3480.3,358.4L3479.2,359.4L3479.6,361.4L3478.3,363.4L3478.5,365.4L3477.3,367.4L3477.4,369.4L3476.3,371.4L3476.4,373.4L3475.2,374.4L3475.5,376.4L3474.3,378.4L3474.6,380.4L3473.3,382.4L3473.5,384.4L3472.3,386.4L3472.4,388.4L3471.3,389.4L3471.3,392.4L3470.3,393.4L3470.6,395.4L3469.3,397.4L3469.5,399.4L3468.3,401.4L3468.4,403.4L3467.4,405.4L3467.1,417.4L3466.3,418.4L3466.6,430.4L3466.1,441.4L3465.3,442.4L3465.6,453.4L3465.1,464.4L3464.3,465.4L3464.6,476.4L3464.1,488.4L3463.3,489.4L3463.6,500.4L3463.0,513.4L3462.4,514.4L3462.6,525.4L3462.0,539.4L3461.4,540.4L3461.6,550.4L3460.9,566.4L3460.4,567.4L3460.6,575.4L3459.9,593.4L3459.4,594.4L3459.6,600.4L3455.1,713.4L3453.9,785.4L3453.4,786.4L3453.0,834.4L3452.4,835.4L3452.0,884.4L3451.4,885.4L3451.1,934.4L3450.4,935.4L3450.1,984.4L3449.4,985.4L3449.5,1010.2L4209.3,1010.2L4209.3,111.4Z"/>
<path fill="#0098ff" d="M3655.6,111.5L3598.6,138.8L3549.8,165.4L3518.6,240.7L3512.9,256.4L3472.6,407.4L3460.5,713.4L3454.2,1010.2L4209.3,1010.2L4209.3,111.4Z"/>
<path fill="#00aeff" d="M3714.6,111.4L3609.6,153.6L3596.6,159.8L3565.4,176.4L3522.6,248.0L3518.6,256.1L3516.0,263.4L3479.0,401.4L3477.5,408.4L3473.6,500.4L3465.9,713.4L3458.9,1010.2L4209.3,1010.2L4209.3,111.4Z"/>
<path fill="#00c3ff" d="M3782.4,111.4L3740.6,129.5L3614.6,171.2L3604.6,175.5L3580.6,188.1L3526.6,253.8L3523.5,258.4L3521.3,263.4L3483.7,402.4L3482.4,409.4L3478.7,499.4L3471.2,713.4L3463.6,1010.2L4209.3,1010.2L4209.3,111.4Z"/>
<path fill="#00d9ff" d="M3857.6,111.4L3746.6,155.2L3620.6,188.4L3612.6,191.3L3594.6,200.7L3529.6,259.8L3526.3,264.4L3488.1,404.4L3487.4,409.4L3483.7,500.4L3476.6,714.4L3468.3,1010.2L4209.3,1010.2L4209.3,111.4Z"/>
<path fill="#00efff" d="M3945.6,111.5L3752.6,180.7L3620.6,207.1L3609.6,212.6L3532.6,264.8L3530.6,267.2L3492.6,407.4L3488.7,500.4L3473.0,1010.2L4209.3,1010.2L4209.3,111.4Z"/>
<path fill="#00fffa" d="M4003.9,111.4L3995.5,122.4L3994.3,123.4L3992.5,126.4L3990.2,128.4L3988.6,131.3L3987.6,131.0L3985.6,132.4L3984.6,132.0L3982.6,133.3L3981.6,133.1L3979.6,134.3L3978.6,134.1L3976.6,135.2L3975.6,135.1L3970.6,137.1L3968.6,137.0L3967.6,138.1L3965.6,138.0L3964.6,139.0L3962.6,139.0L3961.6,140.0L3959.6,140.0L3958.6,141.0L3956.6,141.0L3954.6,142.4L3953.6,142.1L3951.6,143.4L3950.6,143.1L3948.6,144.3L3947.6,144.1L3945.6,145.3L3944.6,145.1L3942.6,146.2L3941.6,146.1L3930.6,150.1L3928.6,150.1L3927.6,151.0L3925.6,151.1L3924.6,152.0L3922.6,152.1L3920.6,153.4L3919.6,153.1L3917.6,154.4L3916.6,154.1L3914.6,155.3L3913.6,155.1L3911.6,156.3L3910.6,156.1L3908.6,157.2L3907.6,157.2L3893.6,162.0L3891.6,162.1L3890.6,163.0L3888.6,163.1L3886.6,164.4L3885.6,164.1L3883.6,165.4L3882.6,165.1L3880.6,166.3L3879.6,166.1L3877.6,167.3L3876.6,167.2L3874.6,168.2L3873.6,168.2L3852.6,175.4L3851.6,175.1L3849.6,176.4L3848.6,176.1L3846.6,177.3L3845.6,177.1L3843.6,178.3L3842.6,178.2L3840.6,179.2L3839.6,179.2L3815.6,187.4L3814.6,187.1L3812.6,188.3L3811.6,188.2L3809.6,189.3L3808.6,189.2L3806.6,190.2L3775.6,200.3L3774.6,200.2L3758.6,205.7L3625.6,224.2L3535.5,269.4L3524.6,307.4L3520.2,324.4L3519.5,325.4L3515.2,342.4L3514.5,343.4L3514.4,345.4L3511.5,354.4L3510.2,360.4L3509.4,361.4L3509.4,363.4L3508.5,365.4L3507.2,371.4L3506.4,372.4L3505.3,378.4L3504.4,379.4L3504.4,381.4L3503.4,383.4L3503.6,384.4L3502.2,389.4L3501.4,390.4L3501.4,392.4L3500.4,394.4L3500.3,396.4L3499.4,397.4L3499.5,399.4L3498.4,401.4L3498.4,403.4L3497.4,405.4L3497.1,417.4L3496.4,418.4L3496.6,429.4L3496.1,441.4L3495.4,442.4L3495.2,464.4L3494.4,465.4L3494.2,488.4L3493.4,489.4L3493.2,517.4L3492.3,518.4L3492.6,537.4L3492.1,553.4L3491.4,554.4L3491.6,571.4L3491.1,588.4L3490.4,589.4L3490.6,605.4L3490.0,624.4L3489.4,625.4L3489.6,639.4L3489.0,659.4L3488.4,660.4L3488.6,673.4L3487.9,695.4L3487.4,696.4L3487.4,713.4L3487.0,725.4L3486.4,726.4L3486.1,749.4L3485.4,750.4L3485.3,773.4L3484.3,774.4L3484.4,797.4L3483.3,798.4L3483.5,826.4L3482.3,827.4L3482.6,854.4L3482.4,859.4L3481.3,860.4L3481.6,886.4L3481.4,893.4L3480.3,894.4L3480.6,918.4L3480.3,926.4L3479.3,927.4L3479.6,950.4L3479.3,959.4L3478.3,960.4L3478.6,981.4L3478.2,993.4L3477.3,994.4L3477.5,1010.2L4209.3,1010.2L4209.3,111.4Z"/>
<path fill="#00ffe4" d="M4022.1,111.4L3999.6,139.4L3995.6,143.1L3939.6,166.3L3762.6,223.5L3736.6,228.0L3631.6,242.6L3595.6,258.7L3549.6,281.7L3515.6,362.6L3511.3,375.4L3502.6,407.4L3498.9,500.4L3492.9,712.4L3482.3,1010.2L4209.3,1010.2L4209.3,111.4Z"/>
<path fill="#00ffce" d="M4040.6,111.6L4009.7,148.4L4003.6,154.1L3997.6,157.9L3949.6,182.1L3765.6,241.5L3741.6,246.3L3637.6,261.2L3602.6,274.8L3564.6,293.4L3563.8,294.4L3520.0,367.4L3516.0,377.4L3509.1,401.4L3507.6,408.4L3504.0,500.4L3498.4,712.4L3494.2,810.4L3486.9,1010.2L4209.3,1010.2L4209.3,111.4Z"/>
<path fill="#00ffb8" d="M4060.2,111.4L4020.6,156.5L4012.6,164.3L4002.6,171.6L3959.6,197.9L3769.6,259.3L3745.6,264.8L3643.6,279.7L3615.6,288.6L3603.6,293.6L3578.6,306.2L3524.4,371.4L3520.7,379.4L3513.6,403.4L3512.6,409.4L3509.2,500.4L3503.9,712.4L3499.4,809.4L3491.5,1010.2L4209.3,1010.2L4209.3,111.4Z"/>
<path fill="#00ffa3" d="M4080.4,111.4L4030.8,165.4L4021.7,174.4L4008.6,185.2L3969.6,213.6L3768.6,278.4L3749.6,283.3L3649.6,298.2L3615.6,307.4L3593.6,317.9L3530.6,373.4L3527.1,377.4L3525.6,380.7L3518.6,403.7L3517.6,410.4L3514.4,500.4L3509.4,712.4L3504.5,809.4L3496.1,1010.2L4209.3,1010.2L4209.3,111.4Z"/>
<path fill="#00ff8d" d="M4101.4,111.4L4031.6,183.7L4014.6,199.2L3978.6,229.8L3784.6,292.7L3754.6,301.6L3654.6,316.9L3620.6,324.2L3607.8,330.4L3532.6,379.4L3530.8,381.4L3523.2,405.4L3522.7,410.4L3519.5,500.4L3514.9,713.4L3509.6,810.4L3500.7,1010.2L4209.3,1010.2L4209.3,111.4Z"/>
<path fill="#00ff77" d="M4123.2,111.4L3988.6,245.2L3987.6,245.1L3986.6,246.3L3984.6,246.1L3983.6,247.2L3981.6,247.1L3980.6,248.2L3978.6,248.1L3977.6,249.2L3975.6,249.1L3974.6,250.1L3972.6,250.1L3971.6,251.1L3969.6,251.2L3968.6,252.1L3966.6,252.2L3964.6,253.4L3962.6,253.1L3961.6,254.4L3959.6,254.1L3958.6,255.3L3956.6,255.1L3955.6,256.3L3953.6,256.1L3952.6,257.3L3950.6,257.1L3949.6,258.3L3947.6,258.1L3946.6,259.2L3944.6,259.1L3943.6,260.2L3941.6,260.2L3940.6,261.2L3938.6,261.2L3937.6,262.1L3935.6,262.2L3934.6,263.1L3932.6,263.2L3931.6,264.1L3929.6,264.2L3928.6,265.1L3926.6,265.2L3925.6,266.0L3923.6,266.2L3918.6,268.3L3916.6,268.1L3915.6,269.3L3913.6,269.1L3912.6,270.2L3910.6,270.2L3909.6,271.2L3907.6,271.2L3906.6,272.2L3904.6,272.2L3903.6,273.2L3901.6,273.2L3900.6,274.1L3898.6,274.2L3897.6,275.1L3895.6,275.2L3894.6,276.1L3892.6,276.2L3891.6,277.0L3889.6,277.2L3888.6,278.0L3886.6,278.2L3885.6,279.0L3883.6,279.2L3872.6,283.2L3870.6,283.2L3869.6,284.2L3867.6,284.2L3866.6,285.1L3864.6,285.2L3863.6,286.1L3861.6,286.2L3860.6,287.1L3858.6,287.2L3857.6,288.1L3855.6,288.2L3854.6,289.0L3852.6,289.2L3851.6,290.0L3849.6,290.2L3848.6,291.0L3846.6,291.2L3826.6,298.1L3824.6,298.2L3823.6,299.1L3821.6,299.2L3820.6,300.0L3818.6,300.2L3817.6,301.0L3815.6,301.2L3814.6,302.0L3812.6,302.2L3811.6,303.0L3779.6,313.3L3778.6,313.2L3777.6,314.0L3775.6,314.2L3759.6,319.8L3737.6,323.4L3735.6,323.2L3734.6,323.8L3729.6,324.3L3726.6,325.1L3722.6,325.2L3721.6,325.9L3716.6,326.3L3713.6,327.1L3709.6,327.2L3707.6,328.1L3702.6,328.2L3701.6,329.0L3696.6,329.2L3695.6,330.0L3689.6,330.2L3688.6,331.1L3683.6,331.2L3682.6,332.0L3676.6,332.2L3675.6,333.1L3669.6,333.2L3668.6,334.2L3663.6,334.2L3662.6,335.2L3656.6,335.2L3655.6,336.2L3650.6,336.2L3649.6,337.2L3643.6,337.2L3642.6,338.3L3636.6,338.2L3635.6,339.3L3630.6,339.2L3629.6,340.3L3625.6,340.2L3622.6,342.4L3621.6,342.2L3620.6,343.4L3619.6,343.2L3618.6,344.4L3617.6,344.3L3616.6,345.4L3615.6,345.3L3614.6,346.3L3613.6,346.3L3612.6,347.3L3611.6,347.3L3610.6,348.3L3609.6,348.3L3608.6,349.2L3607.6,349.3L3596.6,355.0L3594.6,355.3L3593.6,356.3L3592.6,356.3L3591.6,357.3L3590.6,357.3L3589.6,358.3L3588.6,358.3L3587.6,359.3L3586.6,359.3L3585.6,360.2L3567.6,368.9L3565.6,369.4L3564.6,370.3L3563.6,370.4L3535.4,384.4L3533.5,390.4L3532.6,391.4L3532.5,393.4L3531.6,394.4L3531.5,396.4L3530.6,397.4L3530.5,399.4L3528.5,402.4L3528.6,404.4L3527.5,405.4L3527.6,421.4L3526.5,422.4L3526.5,452.4L3525.5,453.4L3525.5,484.4L3524.5,485.4L3524.4,526.4L3523.5,527.4L3523.4,579.4L3522.5,580.4L3522.4,626.4L3522.2,633.4L3521.5,634.4L3521.5,668.4L3521.1,686.4L3520.5,687.4L3520.5,713.4L3520.1,721.4L3519.5,722.4L3519.2,737.4L3518.5,738.4L3518.2,753.4L3517.5,754.4L3517.2,769.4L3516.5,770.4L3516.3,785.4L3515.5,786.4L3515.3,801.4L3514.4,802.4L3514.3,821.4L3513.4,822.4L3513.2,843.4L3512.4,844.4L3512.2,864.4L3511.4,866.4L3511.3,884.4L3511.2,887.4L3510.4,888.4L3510.3,904.4L3510.1,909.4L3509.4,910.4L3509.4,923.4L3509.0,932.4L3508.4,933.4L3508.5,942.4L3507.9,954.4L3507.4,955.4L3507.6,961.4L3506.9,976.4L3506.4,977.4L3505.3,1010.2L4209.3,1010.2L4209.3,111.4Z"/>
<path fill="#00ff62" d="M4148.2,111.4L3999.5,255.4L3994.6,259.0L3944.6,278.8L3799.6,325.6L3763.6,338.7L3635.6,369.6L3562.6,407.3L3561.7,408.4L3560.0,412.4L3548.2,481.4L3545.1,502.4L3542.2,529.4L3531.8,713.4L3523.8,810.4L3509.5,1010.2L4209.3,1010.2L4209.3,111.4Z"/>
<path fill="#00ff4c" d="M4174.0,111.4L4009.1,266.4L4000.6,272.5L3953.6,294.7L3805.6,342.4L3791.6,347.7L3766.6,358.7L3644.6,399.0L3592.3,428.4L3591.6,429.3L3567.2,503.4L3562.3,522.4L3559.0,541.4L3543.3,714.4L3532.9,811.4L3515.6,985.4L3513.6,1010.2L4209.3,1010.2L4209.3,111.4Z"/>
<path fill="#00ff36" d="M4200.6,111.5L4018.6,277.4L4011.6,283.0L4004.6,287.5L3961.6,311.1L3813.6,358.6L3804.6,361.9L3770.6,379.1L3653.6,429.1L3621.9,448.4L3584.6,521.1L3579.3,534.4L3575.7,548.4L3520.2,985.4L3517.8,1010.2L4209.3,1010.2L4209.3,111.4Z"/>
<path fill="#00ff21" d="M4209.3,128.1L4025.8,290.4L4010.6,301.7L3971.6,326.6L3813.6,377.6L3774.6,400.3L3663.3,459.4L3650.6,467.9L3599.9,537.4L3595.4,545.4L3592.3,554.4L3567.5,707.4L3551.2,812.4L3524.7,986.4L3522.0,1010.2L4209.3,1010.2Z"/>
<path fill="#00ff0b" d="M4209.3,152.1L4035.3,301.4L4017.6,315.4L3980.6,342.5L3824.6,392.5L3820.6,394.2L3779.6,421.8L3677.6,487.4L3612.3,553.4L3609.8,557.4L3608.1,562.4L3579.0,710.4L3529.1,987.4L3526.2,1010.2L4209.3,1010.2Z"/>
<path fill="#0bff00" d="M4209.3,175.5L4206.6,177.3L4201.6,182.0L4200.6,182.3L4195.6,187.0L4194.6,187.3L4189.6,192.0L4188.6,192.3L4183.6,197.0L4182.6,197.3L4177.6,202.0L4176.6,202.3L4171.6,207.0L4170.6,207.3L4165.6,212.0L4164.6,212.3L4159.6,217.0L4158.6,217.3L4153.6,222.0L4152.6,222.3L4147.6,227.0L4146.6,227.3L4141.6,232.0L4140.6,232.3L4135.6,237.0L4134.6,237.3L3988.6,359.2L3977.6,362.3L3976.6,363.0L3963.6,367.1L3961.6,367.3L3960.6,368.1L3958.6,368.3L3957.6,369.1L3955.6,369.3L3945.6,372.9L3942.6,373.2L3941.6,374.1L3939.6,374.3L3938.6,375.1L3936.6,375.3L3935.6,376.0L3933.6,376.3L3929.6,378.0L3926.6,378.2L3925.6,379.2L3923.6,379.2L3922.6,380.2L3920.6,380.3L3919.6,381.1L3917.6,381.3L3916.6,382.1L3914.6,382.3L3910.6,384.0L3907.6,384.2L3906.6,385.2L3904.6,385.2L3903.6,386.2L3901.6,386.2L3900.6,387.2L3898.6,387.3L3897.6,388.1L3895.6,388.3L3891.6,390.0L3888.6,390.2L3887.6,391.3L3885.6,391.2L3884.6,392.2L3882.6,392.2L3881.6,393.2L3879.6,393.3L3878.6,394.2L3876.6,394.3L3875.6,395.1L3872.6,395.2L3871.6,396.3L3869.6,396.2L3868.6,397.3L3866.6,397.2L3865.6,398.3L3863.6,398.2L3862.6,399.2L3860.6,399.3L3859.6,400.2L3857.6,400.3L3856.6,401.2L3853.6,401.2L3852.6,402.4L3850.6,402.2L3849.6,403.3L3847.6,403.2L3846.6,404.3L3844.6,404.2L3843.6,405.3L3841.6,405.3L3840.6,406.2L3837.6,406.2L3836.6,407.4L3834.6,407.2L3833.6,408.4L3831.6,408.2L3830.6,409.3L3829.6,409.3L3827.6,411.4L3826.6,411.2L3823.6,414.4L3822.6,414.2L3819.6,417.4L3818.6,417.2L3815.6,420.4L3814.6,420.2L3810.6,424.3L3809.6,424.2L3806.6,427.4L3805.6,427.2L3802.6,430.4L3801.6,430.2L3797.6,434.3L3796.6,434.2L3793.6,437.3L3792.6,437.2L3789.6,440.3L3788.6,440.2L3785.6,443.4L3784.6,443.2L3780.6,447.2L3779.6,447.2L3776.6,450.3L3775.6,450.2L3772.6,453.3L3771.6,453.2L3768.6,456.4L3767.6,456.2L3763.6,460.2L3762.6,460.2L3759.6,463.3L3758.6,463.2L3755.6,466.3L3754.6,466.2L3751.6,469.3L3749.6,470.2L3746.6,473.2L3745.6,473.2L3742.6,476.2L3741.6,476.2L3738.6,479.3L3737.6,479.2L3734.6,482.3L3732.6,483.2L3729.6,486.1L3728.6,486.2L3725.6,489.2L3724.6,489.2L3721.6,492.2L3720.6,492.2L3717.6,495.3L3715.6,496.2L3712.6,499.1L3711.6,499.2L3708.6,502.1L3707.6,502.2L3704.6,505.2L3703.6,505.2L3699.6,509.0L3698.6,509.2L3695.6,512.1L3694.6,512.2L3691.6,515.1L3690.6,515.2L3686.6,519.0L3685.6,519.3L3682.6,522.0L3681.6,522.2L3678.6,525.1L3677.6,525.2L3674.6,528.1L3673.6,528.2L3669.6,532.0L3664.6,535.3L3661.6,538.1L3660.6,538.3L3657.6,541.1L3656.6,541.2L3652.6,545.0L3647.6,548.3L3644.6,551.1L3643.6,551.3L3639.6,554.9L3630.6,561.3L3627.6,564.1L3626.6,564.3L3624.6,566.4L3624.3,568.4L3623.5,569.4L3623.3,572.4L3622.5,573.4L3622.4,576.4L3621.5,577.4L3621.2,581.4L3620.5,582.4L3620.3,585.4L3619.5,586.4L3619.4,589.4L3618.5,590.4L3618.2,594.4L3617.5,595.4L3617.3,598.4L3616.5,599.4L3616.3,602.4L3615.5,603.4L3615.2,607.4L3614.5,608.4L3614.2,611.4L3613.5,612.4L3613.3,615.4L3612.5,616.4L3612.2,620.4L3610.5,625.4L3610.3,628.4L3609.5,629.4L3609.1,633.4L3607.5,638.4L3607.3,641.4L3606.5,642.4L3606.3,645.4L3605.5,646.4L3605.2,650.4L3604.6,651.4L3604.2,654.4L3603.5,655.4L3603.3,658.4L3602.5,659.4L3602.1,663.4L3600.5,668.4L3600.3,671.4L3599.5,672.4L3599.1,676.4L3597.6,681.4L3597.2,684.4L3596.5,685.4L3596.3,688.4L3594.2,697.4L3593.5,698.4L3591.2,710.4L3590.6,711.4L3581.2,758.4L3580.5,759.4L3580.2,763.4L3579.6,764.4L3579.4,767.4L3578.6,769.4L3576.3,782.4L3575.5,783.4L3575.3,787.4L3574.5,788.4L3574.3,792.4L3573.5,793.4L3573.2,797.4L3572.6,798.4L3570.3,811.4L3569.5,812.4L3569.3,816.4L3568.5,817.4L3568.3,821.4L3567.5,822.4L3567.3,826.4L3566.6,827.4L3565.2,836.4L3564.6,837.4L3564.4,840.4L3563.5,841.4L3563.3,845.4L3562.5,846.4L3562.3,850.4L3561.5,851.4L3560.3,860.4L3559.6,861.4L3559.4,864.4L3558.5,865.4L3558.4,869.4L3557.5,870.4L3557.4,874.4L3556.5,875.4L3556.4,879.4L3555.5,880.4L3554.3,889.4L3553.6,890.4L3553.4,893.4L3552.5,894.4L3552.4,898.4L3551.5,899.4L3551.4,903.4L3550.5,904.4L3550.4,908.4L3549.6,909.4L3548.3,918.4L3547.6,919.4L3547.5,922.4L3546.5,923.4L3546.4,927.4L3545.5,928.4L3545.4,932.4L3544.5,933.4L3544.4,937.4L3543.6,938.4L3543.4,942.4L3542.6,943.4L3542.5,946.4L3541.5,947.4L3541.5,951.4L3540.5,952.4L3540.5,956.4L3539.5,957.4L3539.5,961.4L3538.6,962.4L3538.4,966.4L3537.6,967.4L3537.4,971.4L3536.6,972.4L3536.5,975.4L3535.5,976.4L3535.5,980.4L3534.5,981.4L3534.5,985.4L3533.6,986.4L3533.5,991.4L3532.6,992.4L3532.5,998.4L3531.6,999.4L3531.4,1006.4L3530.6,1007.4L3530.6,1010.2L4209.3,1010.2Z"/>
<path fill="#21ff00" d="M4209.3,221.1L4001.6,379.6L3996.6,382.0L3913.6,410.8L3844.6,438.1L3656.6,586.4L3650.9,603.4L3642.9,630.4L3618.9,719.4L3559.2,992.4L3556.3,1010.2L4209.3,1010.2Z"/>
<path fill="#36ff00" d="M4209.0,264.4L4014.6,400.2L4004.6,405.0L3942.6,427.8L3928.7,433.4L3859.6,466.7L3687.6,607.0L3679.6,625.7L3672.4,645.4L3652.6,707.4L3648.1,723.4L3584.7,997.4L3582.3,1010.2L4209.3,1010.2Z"/>
<path fill="#4cff00" d="M4209.3,305.0L4029.6,419.7L4013.6,427.6L3954.6,450.8L3944.4,455.4L3934.9,460.4L3874.9,495.4L3718.6,627.1L3708.8,644.4L3701.6,660.1L3680.1,719.4L3676.5,730.4L3608.6,1010.2L4209.3,1010.2Z"/>
<path fill="#62ff00" d="M4209.3,343.7L4042.6,440.4L4022.6,450.1L3964.6,474.6L3954.1,480.4L3889.6,524.8L3748.9,647.4L3736.6,664.5L3729.8,676.4L3704.8,738.4L3635.1,1010.2L4209.3,1010.2Z"/>
<path fill="#77ff00" d="M4209.3,380.4L4055.6,461.2L4034.6,471.4L3977.6,496.9L3973.2,499.4L3904.6,554.3L3779.9,666.4L3761.6,686.9L3756.1,695.4L3732.0,749.4L3661.9,1010.2L4209.3,1010.2Z"/>
<path fill="#8dff00" d="M4209.2,414.4L4208.6,415.2L4207.6,415.1L4206.6,416.2L4205.6,416.1L4204.6,417.3L4203.6,417.1L4202.6,418.3L4201.6,418.1L4200.6,419.4L4199.6,419.1L4198.6,420.4L4197.6,420.1L4196.6,421.3L4195.6,421.1L4194.6,422.3L4193.6,422.2L4192.6,423.2L4191.6,423.2L4188.6,425.1L4186.6,425.1L4185.6,426.3L4184.6,426.1L4183.6,427.3L4182.6,427.1L4181.6,428.3L4180.6,428.1L4179.6,429.4L4178.6,429.1L4177.6,430.3L4176.6,430.1L4175.6,431.3L4174.6,431.2L4173.6,432.2L4172.6,432.2L4171.6,433.2L4170.6,433.2L4167.6,435.1L4165.6,435.1L4164.6,436.3L4163.6,436.1L4162.6,437.3L4161.6,437.1L4160.6,438.4L4159.6,438.1L4158.6,439.4L4157.6,439.1L4156.6,440.3L4155.6,440.2L4154.6,441.3L4153.6,441.2L4152.6,442.2L4151.6,442.2L4150.6,443.2L4149.6,443.2L4144.6,446.0L4142.6,446.1L4141.6,447.4L4140.2,447.4L4139.6,448.4L4138.6,448.2L4137.6,449.3L4136.6,449.2L4135.6,450.3L4134.6,450.2L4133.6,451.2L4132.6,451.2L4131.6,452.2L4130.6,452.2L4123.6,456.0L4121.6,456.1L4120.6,457.4L4119.6,457.2L4118.6,458.4L4117.6,458.2L4116.6,459.3L4115.6,459.2L4114.6,460.3L4113.6,460.2L4112.6,461.2L4111.6,461.2L4110.6,462.2L4099.6,467.4L4098.6,467.2L4097.6,468.3L4096.6,468.2L4095.6,469.3L4094.6,469.2L4093.6,470.2L4092.6,470.2L4091.6,471.2L4090.6,471.2L4076.6,478.3L4075.6,478.2L4074.6,479.2L4073.6,479.2L4072.6,480.2L4071.6,480.2L4070.6,481.2L4055.6,488.3L4054.6,488.2L4053.6,489.2L4052.6,489.2L4051.6,490.2L4032.6,499.2L4031.6,499.3L4030.6,500.1L4010.6,509.3L3988.6,520.1L3782.6,711.0L3782.5,712.4L3781.3,713.4L3781.5,714.4L3780.3,715.4L3780.5,716.4L3779.3,717.4L3779.5,718.4L3778.3,719.4L3778.5,720.4L3777.3,721.4L3777.4,722.4L3776.3,723.4L3776.4,724.4L3775.3,725.4L3775.4,726.4L3774.3,727.4L3774.4,728.4L3773.3,729.4L3773.4,730.4L3772.3,731.4L3772.4,732.4L3771.3,733.4L3771.4,734.4L3770.3,735.4L3770.4,736.4L3769.3,737.4L3769.4,738.4L3768.3,739.4L3768.4,740.4L3767.3,741.4L3767.4,742.4L3766.3,743.4L3766.4,744.4L3765.3,745.4L3765.4,746.4L3764.3,747.4L3764.4,748.4L3763.3,749.4L3763.4,750.4L3762.3,751.4L3762.4,752.4L3761.3,753.4L3761.4,754.4L3760.3,755.4L3760.4,756.4L3759.3,757.4L3759.5,759.4L3758.3,760.4L3758.4,763.4L3757.4,764.4L3757.6,766.4L3756.3,767.4L3756.4,770.4L3755.4,771.4L3755.6,773.4L3754.3,774.4L3754.5,777.4L3753.3,778.4L3753.6,780.4L3752.4,782.4L3752.5,784.4L3751.3,785.4L3751.6,787.4L3751.4,788.4L3750.4,789.4L3750.5,791.4L3749.3,792.4L3749.4,795.4L3748.4,796.4L3748.6,798.4L3747.3,799.4L3747.4,802.4L3746.4,803.4L3746.6,805.4L3745.3,806.4L3745.5,809.4L3744.3,810.4L3744.6,812.4L3743.4,814.4L3743.5,816.4L3742.3,817.4L3742.6,819.4L3742.4,820.4L3741.4,821.4L3741.5,823.4L3740.3,824.4L3740.5,826.4L3740.4,827.4L3739.4,828.4L3739.6,830.4L3738.3,831.4L3738.4,834.4L3737.3,835.4L3737.6,837.4L3736.3,838.4L3736.5,841.4L3735.3,842.4L3735.6,844.4L3734.3,845.4L3734.5,848.4L3733.3,849.4L3733.6,851.4L3732.4,853.4L3732.5,855.4L3731.3,856.4L3731.5,858.4L3731.4,859.4L3730.4,860.4L3730.5,862.4L3729.3,863.4L3729.4,866.4L3728.3,867.4L3728.6,869.4L3727.3,870.4L3727.4,873.4L3726.3,874.4L3726.6,876.4L3725.3,877.4L3725.5,880.4L3724.3,881.4L3724.6,883.4L3723.3,884.4L3723.5,887.4L3722.3,888.4L3722.5,890.4L3722.4,891.4L3721.4,892.4L3721.5,894.4L3720.3,895.4L3720.4,898.4L3719.3,899.4L3719.6,901.4L3718.3,902.4L3718.4,905.4L3717.3,906.4L3717.6,908.4L3716.3,909.4L3716.5,912.4L3715.3,913.4L3715.6,915.4L3714.3,916.4L3714.5,919.4L3713.3,920.4L3713.4,923.4L3712.3,924.4L3712.5,926.4L3711.3,927.4L3711.4,930.4L3710.3,931.4L3710.6,933.4L3709.3,934.4L3709.4,937.4L3708.3,938.4L3708.6,940.4L3707.3,941.4L3707.5,944.4L3706.3,945.4L3706.6,947.4L3705.3,948.4L3705.5,951.4L3704.3,952.4L3704.6,954.4L3703.3,955.4L3703.5,958.4L3702.3,959.4L3702.4,962.4L3701.3,963.4L3701.5,965.4L3700.3,966.4L3700.4,969.4L3699.3,970.4L3699.6,972.4L3698.3,973.4L3698.4,976.4L3697.3,977.4L3697.6,979.4L3696.3,980.4L3696.5,983.4L3695.3,984.4L3695.6,986.4L3694.3,987.4L3694.5,990.4L3693.3,991.4L3693.4,994.4L3692.3,995.4L3692.5,997.4L3691.3,998.4L3691.4,1001.4L3690.3,1002.4L3690.6,1004.4L3689.3,1005.4L3689.4,1008.4L3688.3,1009.4L3688.4,1010.2L4209.3,1010.2Z"/>
<path fill="#a3ff00" d="M4209.3,443.4L4004.6,544.0L3932.6,606.0L3908.6,627.9L3886.9,649.4L3810.1,729.4L3789.6,770.4L3713.5,1010.2L4209.3,1010.2Z"/>
<path fill="#b8ff00" d="M4209.3,471.9L4020.6,567.7L3941.6,630.9L3925.8,645.4L3910.8,661.4L3836.4,748.4L3819.7,781.4L3738.8,1010.2L4209.3,1010.2Z"/>
<path fill="#ceff00" d="M4209.3,500.8L4036.6,591.4L3958.6,649.0L3947.6,658.4L3938.1,668.4L3917.8,694.4L3861.6,769.1L3849.4,793.4L3764.6,1010.2L4209.3,1010.2Z"/>
<path fill="#e4ff00" d="M4209.3,530.1L4052.6,614.9L3972.6,669.4L3966.4,674.4L3960.5,680.4L3955.7,686.4L3942.1,706.4L3887.6,788.4L3879.1,805.4L3791.2,1010.2L4209.3,1010.2Z"/>
<path fill="#faff00" d="M4209.3,559.8L4068.6,638.4L3986.6,689.8L3980.1,695.4L3977.2,699.4L3965.8,718.4L3913.6,807.8L3818.4,1010.2L4209.3,1010.2Z"/>
<path fill="#ffef00" d="M4209.3,589.9L4204.6,592.2L4198.6,596.1L4197.6,596.2L4196.4,597.4L4172.6,611.1L4171.6,611.2L4165.6,615.1L4164.6,615.2L4163.6,616.3L4139.6,630.1L4138.6,630.2L4132.6,634.1L4131.6,634.2L4125.6,638.1L4124.6,638.2L4123.6,639.3L4105.6,649.2L4099.6,653.1L4098.6,653.2L4092.6,657.1L4091.6,657.2L4090.6,658.3L4072.6,668.2L4066.6,672.1L4065.6,672.2L4059.6,676.2L4058.6,676.2L4056.6,677.9L4039.6,687.3L4033.6,691.1L4032.6,691.3L4026.6,695.2L4025.6,695.3L4021.6,698.1L4018.6,699.2L4016.6,700.9L4006.6,706.3L4000.6,710.2L3999.6,710.3L3997.6,712.1L3997.5,713.4L3996.4,714.4L3996.5,715.4L3995.4,716.4L3995.6,717.4L3994.4,718.4L3994.6,719.4L3993.4,720.4L3993.6,721.4L3992.4,722.4L3992.5,723.4L3991.4,724.4L3991.5,725.4L3990.5,726.4L3989.4,729.4L3987.4,731.4L3987.5,732.4L3986.4,733.4L3986.5,734.4L3985.4,735.4L3985.5,736.4L3984.4,737.4L3984.5,738.4L3983.4,739.4L3983.5,740.4L3982.4,741.4L3982.5,742.4L3981.4,743.4L3981.5,744.4L3980.4,745.4L3980.6,746.4L3979.4,747.4L3979.6,748.4L3978.4,749.4L3978.6,750.4L3977.4,751.4L3977.6,752.4L3976.4,753.4L3976.6,754.4L3975.4,755.4L3975.6,756.4L3974.4,757.4L3974.6,758.4L3973.4,759.4L3973.5,760.4L3972.4,761.4L3972.5,762.4L3971.4,763.4L3971.5,764.4L3970.4,765.4L3970.5,766.4L3969.4,767.4L3969.5,768.4L3968.4,769.4L3968.5,770.4L3967.4,771.4L3967.4,772.4L3966.4,773.4L3966.4,774.4L3965.4,775.4L3965.4,776.4L3964.4,777.4L3964.4,778.4L3963.4,779.4L3963.4,780.4L3962.5,781.4L3962.4,782.4L3954.2,798.4L3952.3,800.4L3952.5,801.4L3951.4,802.4L3951.6,803.4L3950.4,804.4L3950.6,805.4L3949.4,806.4L3949.6,807.4L3948.4,808.4L3948.6,809.4L3947.4,810.4L3947.6,811.4L3946.4,812.4L3946.6,813.4L3945.4,814.4L3945.5,815.4L3944.4,816.4L3944.5,817.4L3943.4,818.4L3943.5,819.4L3942.4,820.4L3942.5,821.4L3941.4,822.4L3941.5,823.4L3940.4,824.4L3940.5,825.4L3939.4,826.4L3939.4,827.4L3938.4,828.4L3938.4,829.4L3937.4,830.4L3937.4,831.4L3936.4,832.4L3936.4,833.4L3935.4,834.4L3935.4,835.4L3934.4,836.4L3934.3,837.4L3933.4,838.4L3917.5,870.4L3916.4,871.4L3916.5,872.4L3915.4,873.4L3915.5,874.4L3914.4,875.4L3914.5,876.4L3913.4,877.4L3913.5,878.4L3912.4,879.4L3912.5,880.4L3911.4,881.4L3911.4,882.4L3910.4,883.4L3910.4,884.4L3909.4,885.4L3909.4,886.4L3908.4,887.4L3908.4,888.4L3907.4,889.4L3907.4,890.4L3906.4,891.4L3906.4,892.4L3905.4,893.4L3905.3,894.4L3882.4,939.4L3881.4,940.4L3881.4,941.4L3880.4,942.4L3880.4,943.4L3879.4,944.4L3879.4,945.4L3878.4,946.4L3878.4,947.4L3877.4,948.4L3877.3,949.4L3876.4,950.4L3846.4,1010.2L4209.3,1010.2Z"/>
<path fill="#ffd900" d="M4209.3,614.4L4025.6,736.9L3875.8,1010.2L4209.3,1010.2Z"/>
<path fill="#ffc300" d="M4209.3,641.6L4051.9,762.4L3906.4,1010.2L4209.3,1010.2Z"/>
<path fill="#ffae00" d="M4209.3,672.0L4078.1,787.4L3938.1,1010.2L4209.3,1010.2Z"/>
<path fill="#ff9800" d="M4209.1,706.4L4104.6,811.4L3971.0,1010.2L4209.3,1010.2Z"/>
<path fill="#ff8200" d="M4209.3,744.9L4129.7,836.4L4005.2,1010.2L4209.3,1010.2Z"/>
<path fill="#ff6d00" d="M4208.6,789.0L4208.4,790.4L4205.3,793.4L4204.6,795.4L4202.3,797.4L4202.2,798.4L4199.3,801.4L4199.2,802.4L4196.3,805.4L4195.4,807.4L4192.3,810.4L4192.3,811.4L4189.3,814.4L4188.6,816.4L4186.3,818.4L4186.2,819.4L4183.3,822.4L4183.2,823.4L4180.3,826.4L4179.4,828.4L4176.3,831.4L4176.3,832.4L4173.3,835.4L4173.3,836.4L4170.3,839.4L4170.2,840.4L4167.3,843.4L4166.4,845.4L4163.2,848.4L4163.4,849.4L4160.3,852.4L4160.3,853.4L4157.3,856.4L4156.6,858.3L4154.3,860.4L4154.2,861.4L4151.3,864.4L4150.4,866.4L4147.2,869.4L4147.4,870.4L4144.3,873.4L4143.6,875.4L4141.3,877.4L4140.6,879.3L4138.3,881.4L4138.2,882.4L4135.3,885.4L4134.4,887.4L4131.2,890.4L4131.3,891.4L4128.3,894.4L4127.6,896.4L4125.3,898.4L4125.2,899.4L4122.3,902.4L4122.2,903.4L4119.3,906.4L4118.6,908.1L4115.3,911.4L4115.3,912.4L4112.3,915.4L4111.6,917.4L4109.3,919.4L4109.2,920.4L4106.3,923.4L4106.2,924.4L4103.3,927.4L4102.4,929.4L4099.3,932.4L4099.3,933.4L4096.3,936.4L4095.6,938.4L4093.3,940.4L4093.2,941.4L4090.3,944.4L4090.2,945.4L4087.3,948.4L4086.4,950.4L4083.3,953.4L4083.3,954.4L4080.3,957.4L4080.3,958.4L4077.3,961.4L4077.2,962.4L4074.3,965.4L4073.4,967.4L4070.3,970.4L4070.4,971.4L4067.3,974.4L4067.3,975.4L4066.6,976.4L4064.3,978.4L4064.3,979.4L4061.3,982.4L4061.2,983.4L4058.3,986.4L4057.4,988.4L4054.3,991.4L4054.4,992.4L4051.3,995.4L4051.3,996.4L4048.3,999.4L4048.3,1000.4L4045.3,1003.4L4045.2,1004.4L4042.3,1007.4L4042.2,1008.4L4040.7,1010.2L4209.3,1010.2L4209.3,788.4Z"/>
<path fill="#ff5700" d="M4209.1,826.4L4204.6,832.4L4069.0,1010.2L4209.3,1010.2Z"/>
<path fill="#ff4100" d="M4209.1,863.4L4194.6,882.4L4097.2,1010.2L4209.3,1010.2Z"/>
<path fill="#ff2b00" d="M4209.3,900.1L4204.5,906.4L4125.3,1010.2L4209.3,1010.2Z"/>
<path fill="#ff1600" d="M4209.3,937.0L4197.6,952.4L4153.5,1010.2L4209.3,1010.2Z"/>
<path fill="#ff0000" d="M4209.3,974.0L4204.4,980.4L4181.7,1010.2L4209.3,1010.2Z"/>
</g>
<g class="cl" clip-path="url(#clipc)">
<polyline points="3638.3,96.5 3612,111 3535.1,153.3 3495.9,300 3467.6,406.7 3463.6,500 3455.1,713.3 3453.5,810 3449.5,1010 3448.9,1040"/>
<polyline points="4022.7,87.2 4004.4,111 3988.7,131.4 3758,206 3626.1,223.9 3535.1,269.4 3497.5,406.7 3493.7,500 3487.4,713.3 3484,810 3477.7,1010 3476.8,1040"/>
<polyline points="4144.8,89.8 4123.6,111 3988.7,245.6 3759,320 3626.1,340.8 3535.1,384.1 3527.9,406.7 3524.7,500 3520.4,713.3 3514.7,810 3505.3,1010 3503.9,1040"/>
<polyline points="4234.1,154.8 4211,174 3988.7,359.1 3830,409.5 3624.6,566.2 3590.3,713.3 3533.5,988.8 3530.5,1010 3526.3,1039.7"/>
<polyline points="4238.1,401.6 4211,414.5 3988.7,520 3784,710 3759.7,758.8 3689,1010 3680.9,1038.9"/>
<polyline points="4237,574 4211,589 3999,711 3988.7,730.6 3846.5,1010 3832.9,1036.7"/>
<polyline points="4229.2,763.1 4211,787 4041,1010 4022.8,1033.9"/>
</g>
<g class="ti">
<line x1="3440.6" y1="407.2" x2="3457.1" y2="407.2"/>
<line x1="3440.6" y1="713.3" x2="3457.1" y2="713.3"/>
<line x1="3533.6" y1="1010.2" x2="3533.6" y2="992.7"/>
<line x1="3761.3" y1="1010.2" x2="3761.3" y2="992.7"/>
<line x1="3988.7" y1="1010.2" x2="3988.7" y2="992.7"/>
</g>
<rect class="fr" x="3440.6" y="111.4" width="768.7" height="898.8"/>
<text class="tk" text-anchor="end" x="3415" y="142">350</text>
<text class="tk" text-anchor="end" x="3415" y="440.8">300</text>
<text class="tk" text-anchor="end" x="3415" y="745.2">250</text>
<text class="tk" text-anchor="end" x="3415" y="1038.6">200</text>
<text class="tk" text-anchor="middle" x="3532" y="1104.6">10</text>
<text class="tk" text-anchor="middle" x="3757.9" y="1104.6">15</text>
<text class="tk" text-anchor="middle" x="3988" y="1104.6">20</text>
<text class="tk" text-anchor="middle" x="4214" y="1104.6">25</text>
<text class="tk" x="3445.5" y="73.8">(c)</text>
<text class="tk" x="3739.3" y="1233"><tspan class="cj" dy="7">间距</tspan><tspan dy="-7" dx="-2">/m</tspan></text>
<text class="tk" transform="translate(3197 790) rotate(-90)"><tspan class="cj" dy="9.5">车速</tspan><tspan dy="-9.5">/(km</tspan><tspan font-size="124" dy="14.7" dx="-3">·</tspan><tspan dy="-14.7" dx="-0.7">h</tspan><tspan font-size="60" dy="-33" dx="-1.5">−</tspan><tspan font-size="60" dy="2" dx="-1.5">1</tspan><tspan dy="31" dx="2.2">)</tspan></text>
<g class="cb">
<rect x="4316.6" y="108.3" width="85" height="21.2" fill="#fff"/>
<rect x="4316.6" y="994.2" width="85" height="18.8" fill="#000"/>
<rect x="4316.6" y="976.19" width="85" height="18.61" fill="#0000ff"/>
<rect x="4316.6" y="958.17" width="85" height="18.61" fill="#0016ff"/>
<rect x="4316.6" y="940.16" width="85" height="18.61" fill="#002bff"/>
<rect x="4316.6" y="922.14" width="85" height="18.61" fill="#0041ff"/>
<rect x="4316.6" y="904.13" width="85" height="18.61" fill="#0057ff"/>
<rect x="4316.6" y="886.11" width="85" height="18.61" fill="#006dff"/>
<rect x="4316.6" y="868.10" width="85" height="18.61" fill="#0082ff"/>
<rect x="4316.6" y="850.08" width="85" height="18.61" fill="#0098ff"/>
<rect x="4316.6" y="832.07" width="85" height="18.61" fill="#00aeff"/>
<rect x="4316.6" y="814.05" width="85" height="18.61" fill="#00c3ff"/>
<rect x="4316.6" y="796.04" width="85" height="18.61" fill="#00d9ff"/>
<rect x="4316.6" y="778.03" width="85" height="18.61" fill="#00efff"/>
<rect x="4316.6" y="760.01" width="85" height="18.61" fill="#00fffa"/>
<rect x="4316.6" y="742.00" width="85" height="18.61" fill="#00ffe4"/>
<rect x="4316.6" y="723.98" width="85" height="18.61" fill="#00ffce"/>
<rect x="4316.6" y="705.97" width="85" height="18.61" fill="#00ffb8"/>
<rect x="4316.6" y="687.95" width="85" height="18.61" fill="#00ffa3"/>
<rect x="4316.6" y="669.94" width="85" height="18.61" fill="#00ff8d"/>
<rect x="4316.6" y="651.92" width="85" height="18.61" fill="#00ff77"/>
<rect x="4316.6" y="633.91" width="85" height="18.61" fill="#00ff62"/>
<rect x="4316.6" y="615.89" width="85" height="18.61" fill="#00ff4c"/>
<rect x="4316.6" y="597.88" width="85" height="18.61" fill="#00ff36"/>
<rect x="4316.6" y="579.86" width="85" height="18.61" fill="#00ff21"/>
<rect x="4316.6" y="561.85" width="85" height="18.61" fill="#00ff0b"/>
<rect x="4316.6" y="543.84" width="85" height="18.61" fill="#0bff00"/>
<rect x="4316.6" y="525.82" width="85" height="18.61" fill="#21ff00"/>
<rect x="4316.6" y="507.81" width="85" height="18.61" fill="#36ff00"/>
<rect x="4316.6" y="489.79" width="85" height="18.61" fill="#4cff00"/>
<rect x="4316.6" y="471.78" width="85" height="18.61" fill="#62ff00"/>
<rect x="4316.6" y="453.76" width="85" height="18.61" fill="#77ff00"/>
<rect x="4316.6" y="435.75" width="85" height="18.61" fill="#8dff00"/>
<rect x="4316.6" y="417.73" width="85" height="18.61" fill="#a3ff00"/>
<rect x="4316.6" y="399.72" width="85" height="18.61" fill="#b8ff00"/>
<rect x="4316.6" y="381.70" width="85" height="18.61" fill="#ceff00"/>
<rect x="4316.6" y="363.69" width="85" height="18.61" fill="#e4ff00"/>
<rect x="4316.6" y="345.67" width="85" height="18.61" fill="#faff00"/>
<rect x="4316.6" y="327.66" width="85" height="18.61" fill="#ffef00"/>
<rect x="4316.6" y="309.65" width="85" height="18.61" fill="#ffd900"/>
<rect x="4316.6" y="291.63" width="85" height="18.61" fill="#ffc300"/>
<rect x="4316.6" y="273.62" width="85" height="18.61" fill="#ffae00"/>
<rect x="4316.6" y="255.60" width="85" height="18.61" fill="#ff9800"/>
<rect x="4316.6" y="237.59" width="85" height="18.61" fill="#ff8200"/>
<rect x="4316.6" y="219.57" width="85" height="18.61" fill="#ff6d00"/>
<rect x="4316.6" y="201.56" width="85" height="18.61" fill="#ff5700"/>
<rect x="4316.6" y="183.54" width="85" height="18.61" fill="#ff4100"/>
<rect x="4316.6" y="165.53" width="85" height="18.61" fill="#ff2b00"/>
<rect x="4316.6" y="147.51" width="85" height="18.61" fill="#ff1600"/>
<rect x="4316.6" y="129.50" width="85" height="18.61" fill="#ff0000"/>
<rect x="4316.6" y="994.2" width="85" height="18.8" fill="#000"/>
</g>
<g class="cbk">
<line x1="4401.6" y1="994.2" x2="4416.1" y2="994.2"/>
<line x1="4401.6" y1="886.1" x2="4416.1" y2="886.1"/>
<line x1="4401.6" y1="778.0" x2="4416.1" y2="778.0"/>
<line x1="4401.6" y1="669.9" x2="4416.1" y2="669.9"/>
<line x1="4401.6" y1="561.9" x2="4416.1" y2="561.9"/>
<line x1="4401.6" y1="453.8" x2="4416.1" y2="453.8"/>
<line x1="4401.6" y1="345.7" x2="4416.1" y2="345.7"/>
<line x1="4401.6" y1="237.6" x2="4416.1" y2="237.6"/>
<line x1="4401.6" y1="129.5" x2="4416.1" y2="129.5"/>
</g>
<rect class="cbf" x="4317.8" y="109.5" width="82.6" height="902.3"/>
<text class="cbl" x="4426.5" y="1014.8">3.740</text>
<text class="cbl" x="4426.5" y="906.7">4.305</text>
<text class="cbl" x="4426.5" y="798.6">4.870</text>
<text class="cbl" x="4426.5" y="690.5">5.435</text>
<text class="cbl" x="4426.5" y="582.5">6.000</text>
<text class="cbl" x="4426.5" y="474.4">6.565</text>
<text class="cbl" x="4426.5" y="366.3">7.130</text>
<text class="cbl" x="4426.5" y="258.2">7.695</text>
<text class="cbl" x="4426.5" y="150.1">8.260</text>
<text class="cbt" x="4181" y="65">可靠度指标</text>
</svg></body></html>
